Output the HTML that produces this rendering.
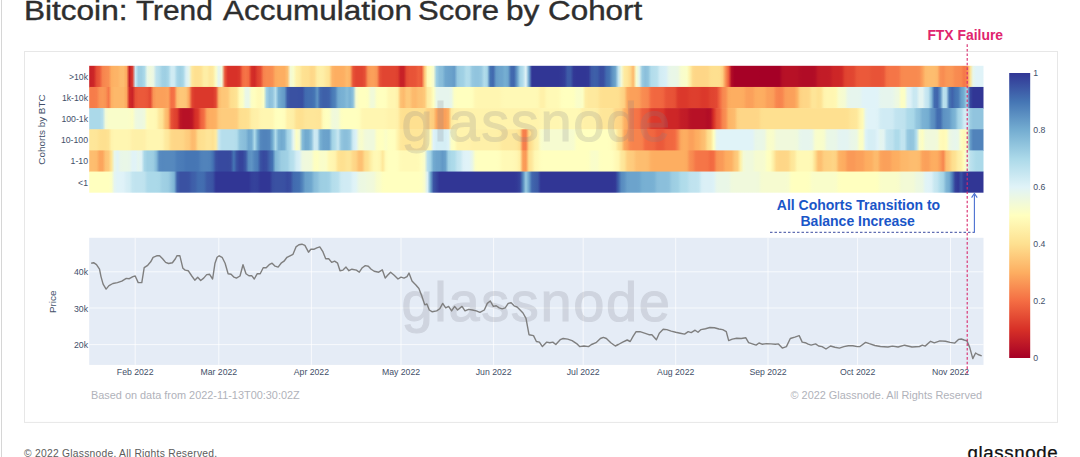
<!DOCTYPE html>
<html lang="en"><head><meta charset="utf-8"><title>Bitcoin: Trend Accumulation Score by Cohort</title>
<style>
html,body{margin:0;padding:0;background:#fff}
body{width:1080px;height:457px;position:relative;overflow:hidden;font-family:"Liberation Sans",sans-serif}
.edge{position:absolute;left:0.6px;top:0;width:1px;height:457px;background:#d6d6d6}
.title{position:absolute;top:-5.8px;height:34px;line-height:34px;font-size:27.5px;color:#2e2e2e;white-space:nowrap;font-weight:400;-webkit-text-stroke:0.4px #2e2e2e;transform-origin:0 50%}
.foot{position:absolute;left:24px;top:446.7px;font-size:10.3px;line-height:14px;color:#5c5c5c;white-space:nowrap;letter-spacing:0.25px}
.logo{position:absolute;left:967.6px;top:439.1px;font-size:18.7px;line-height:28px;color:#111;white-space:nowrap;letter-spacing:0.6px;-webkit-text-stroke:0.25px #111}
</style></head><body>
<div class="edge"></div>
<svg width="1080" height="457" viewBox="0 0 1080 457" style="position:absolute;left:0;top:0">
<rect x="24.5" y="51.5" width="1033" height="370.9" fill="#fff" stroke="#e7e7e7" stroke-width="1"/>
<defs>
<linearGradient id="r0" gradientUnits="userSpaceOnUse" x1="89.20" y1="0" x2="983.50" y2="0">
<stop offset="0.0017" stop-color="#c82127"/>
<stop offset="0.0050" stop-color="#cd2627"/>
<stop offset="0.0083" stop-color="#e44c34"/>
<stop offset="0.0117" stop-color="#eb593a"/>
<stop offset="0.0150" stop-color="#f7834d"/>
<stop offset="0.0183" stop-color="#f88a50"/>
<stop offset="0.0217" stop-color="#f98f53"/>
<stop offset="0.0250" stop-color="#fdaf62"/>
<stop offset="0.0283" stop-color="#fdb366"/>
<stop offset="0.0317" stop-color="#fdb467"/>
<stop offset="0.0350" stop-color="#fdbc6e"/>
<stop offset="0.0383" stop-color="#fdbd6f"/>
<stop offset="0.0417" stop-color="#fdab60"/>
<stop offset="0.0450" stop-color="#c41e27"/>
<stop offset="0.0483" stop-color="#db382b"/>
<stop offset="0.0517" stop-color="#cbe9f2"/>
<stop offset="0.0550" stop-color="#9ecfe3"/>
<stop offset="0.0583" stop-color="#9ecfe3"/>
<stop offset="0.0617" stop-color="#abd9e9"/>
<stop offset="0.0650" stop-color="#e9f7e7"/>
<stop offset="0.0683" stop-color="#f0f9dc"/>
<stop offset="0.0717" stop-color="#ebf7e4"/>
<stop offset="0.0750" stop-color="#bee2ee"/>
<stop offset="0.0783" stop-color="#b3ddeb"/>
<stop offset="0.0817" stop-color="#a1d1e5"/>
<stop offset="0.0850" stop-color="#9ecfe3"/>
<stop offset="0.0883" stop-color="#a6d5e7"/>
<stop offset="0.0917" stop-color="#cfebf3"/>
<stop offset="0.0950" stop-color="#cfebf3"/>
<stop offset="0.0983" stop-color="#a6d5e7"/>
<stop offset="0.1017" stop-color="#9ecfe3"/>
<stop offset="0.1050" stop-color="#a7d6e7"/>
<stop offset="0.1083" stop-color="#d8eff6"/>
<stop offset="0.1117" stop-color="#e7f6ea"/>
<stop offset="0.1150" stop-color="#fee79b"/>
<stop offset="0.1183" stop-color="#fee090"/>
<stop offset="0.1217" stop-color="#fee090"/>
<stop offset="0.1250" stop-color="#fee293"/>
<stop offset="0.1283" stop-color="#feeea5"/>
<stop offset="0.1317" stop-color="#feeea6"/>
<stop offset="0.1350" stop-color="#fee79b"/>
<stop offset="0.1383" stop-color="#feea9f"/>
<stop offset="0.1417" stop-color="#fafdc9"/>
<stop offset="0.1450" stop-color="#e3f4f3"/>
<stop offset="0.1483" stop-color="#f2fad7"/>
<stop offset="0.1517" stop-color="#ea5839"/>
<stop offset="0.1550" stop-color="#d83128"/>
<stop offset="0.1650" stop-color="#d83128"/>
<stop offset="0.1683" stop-color="#db392b"/>
<stop offset="0.1717" stop-color="#f46c43"/>
<stop offset="0.1750" stop-color="#f57547"/>
<stop offset="0.1783" stop-color="#f36b42"/>
<stop offset="0.1817" stop-color="#d52e27"/>
<stop offset="0.1850" stop-color="#d02a27"/>
<stop offset="0.1883" stop-color="#df412f"/>
<stop offset="0.1917" stop-color="#e54d34"/>
<stop offset="0.1950" stop-color="#f7824d"/>
<stop offset="0.1983" stop-color="#f88a50"/>
<stop offset="0.2017" stop-color="#f88a50"/>
<stop offset="0.2050" stop-color="#f98f52"/>
<stop offset="0.2083" stop-color="#fcaa5f"/>
<stop offset="0.2117" stop-color="#fdae61"/>
<stop offset="0.2183" stop-color="#fdae61"/>
<stop offset="0.2217" stop-color="#fdbf71"/>
<stop offset="0.2250" stop-color="#f3fad5"/>
<stop offset="0.2283" stop-color="#f9fdca"/>
<stop offset="0.2317" stop-color="#fff2ab"/>
<stop offset="0.2350" stop-color="#feeea5"/>
<stop offset="0.2383" stop-color="#fee293"/>
<stop offset="0.2417" stop-color="#fee090"/>
<stop offset="0.2450" stop-color="#fedf8f"/>
<stop offset="0.2483" stop-color="#fed788"/>
<stop offset="0.2517" stop-color="#feda8b"/>
<stop offset="0.2550" stop-color="#feeda4"/>
<stop offset="0.2583" stop-color="#fef0a8"/>
<stop offset="0.2617" stop-color="#feeea6"/>
<stop offset="0.2650" stop-color="#fee79b"/>
<stop offset="0.2683" stop-color="#fee293"/>
<stop offset="0.2717" stop-color="#fdb568"/>
<stop offset="0.2750" stop-color="#fdae61"/>
<stop offset="0.2817" stop-color="#fdae61"/>
<stop offset="0.2850" stop-color="#fdb063"/>
<stop offset="0.2883" stop-color="#fdbb6d"/>
<stop offset="0.2917" stop-color="#fdb265"/>
<stop offset="0.2950" stop-color="#e85437"/>
<stop offset="0.2983" stop-color="#e14531"/>
<stop offset="0.3050" stop-color="#e14531"/>
<stop offset="0.3083" stop-color="#e65036"/>
<stop offset="0.3117" stop-color="#f99555"/>
<stop offset="0.3150" stop-color="#fba05a"/>
<stop offset="0.3183" stop-color="#fba05a"/>
<stop offset="0.3217" stop-color="#f99555"/>
<stop offset="0.3250" stop-color="#e65036"/>
<stop offset="0.3283" stop-color="#e14531"/>
<stop offset="0.3417" stop-color="#e14531"/>
<stop offset="0.3450" stop-color="#de402e"/>
<stop offset="0.3483" stop-color="#c72027"/>
<stop offset="0.3517" stop-color="#c82227"/>
<stop offset="0.3550" stop-color="#e44c34"/>
<stop offset="0.3583" stop-color="#e85337"/>
<stop offset="0.3617" stop-color="#e85337"/>
<stop offset="0.3650" stop-color="#e95538"/>
<stop offset="0.3683" stop-color="#ee603d"/>
<stop offset="0.3717" stop-color="#eb593a"/>
<stop offset="0.3750" stop-color="#fdc476"/>
<stop offset="0.3783" stop-color="#fff9b7"/>
<stop offset="0.3817" stop-color="#ffffbf"/>
<stop offset="0.3850" stop-color="#f6fbd0"/>
<stop offset="0.3883" stop-color="#9ecfe3"/>
<stop offset="0.3917" stop-color="#8bbfdb"/>
<stop offset="0.3950" stop-color="#87bcd9"/>
<stop offset="0.3983" stop-color="#6fa7ce"/>
<stop offset="0.4017" stop-color="#6ca3cc"/>
<stop offset="0.4050" stop-color="#6aa1cb"/>
<stop offset="0.4083" stop-color="#659bc8"/>
<stop offset="0.4117" stop-color="#96c8e0"/>
<stop offset="0.4150" stop-color="#9ecfe3"/>
<stop offset="0.4183" stop-color="#a1d1e5"/>
<stop offset="0.4217" stop-color="#b3ddeb"/>
<stop offset="0.4250" stop-color="#b2dceb"/>
<stop offset="0.4283" stop-color="#96c8e0"/>
<stop offset="0.4317" stop-color="#91c4de"/>
<stop offset="0.4350" stop-color="#91c4de"/>
<stop offset="0.4383" stop-color="#96c8e0"/>
<stop offset="0.4417" stop-color="#b2dceb"/>
<stop offset="0.4450" stop-color="#a7d6e7"/>
<stop offset="0.4483" stop-color="#4473b3"/>
<stop offset="0.4517" stop-color="#4168ae"/>
<stop offset="0.4550" stop-color="#659cc8"/>
<stop offset="0.4583" stop-color="#6ca3cc"/>
<stop offset="0.4617" stop-color="#6da5cd"/>
<stop offset="0.4650" stop-color="#76afd2"/>
<stop offset="0.4683" stop-color="#6fa7ce"/>
<stop offset="0.4717" stop-color="#426aaf"/>
<stop offset="0.4750" stop-color="#4067ad"/>
<stop offset="0.4783" stop-color="#649ac7"/>
<stop offset="0.4817" stop-color="#a2d2e5"/>
<stop offset="0.4850" stop-color="#b5deec"/>
<stop offset="0.4883" stop-color="#e1f3f7"/>
<stop offset="0.4917" stop-color="#71a9cf"/>
<stop offset="0.4950" stop-color="#313695"/>
<stop offset="0.5250" stop-color="#313695"/>
<stop offset="0.5283" stop-color="#323996"/>
<stop offset="0.5317" stop-color="#343f9a"/>
<stop offset="0.5350" stop-color="#3d5ba7"/>
<stop offset="0.5383" stop-color="#3d5aa7"/>
<stop offset="0.5417" stop-color="#323996"/>
<stop offset="0.5450" stop-color="#313695"/>
<stop offset="0.5550" stop-color="#313695"/>
<stop offset="0.5583" stop-color="#323996"/>
<stop offset="0.5617" stop-color="#3d5aa7"/>
<stop offset="0.5650" stop-color="#3e60a9"/>
<stop offset="0.5683" stop-color="#3d5da8"/>
<stop offset="0.5717" stop-color="#384ca0"/>
<stop offset="0.5750" stop-color="#394ea1"/>
<stop offset="0.5783" stop-color="#416aaf"/>
<stop offset="0.5817" stop-color="#4574b3"/>
<stop offset="0.5850" stop-color="#5d92c3"/>
<stop offset="0.5883" stop-color="#6ca4cc"/>
<stop offset="0.5917" stop-color="#c1e4ef"/>
<stop offset="0.5950" stop-color="#f1f9d9"/>
<stop offset="0.5983" stop-color="#feeba1"/>
<stop offset="0.6017" stop-color="#fee598"/>
<stop offset="0.6050" stop-color="#fed98a"/>
<stop offset="0.6083" stop-color="#fdb86b"/>
<stop offset="0.6117" stop-color="#f7fccd"/>
<stop offset="0.6150" stop-color="#e5f5ee"/>
<stop offset="0.6183" stop-color="#99cbe1"/>
<stop offset="0.6217" stop-color="#8bbfdb"/>
<stop offset="0.6250" stop-color="#90c4dd"/>
<stop offset="0.6283" stop-color="#b1dceb"/>
<stop offset="0.6317" stop-color="#b6deec"/>
<stop offset="0.6350" stop-color="#b9e0ed"/>
<stop offset="0.6383" stop-color="#d2ecf4"/>
<stop offset="0.6417" stop-color="#d5eef5"/>
<stop offset="0.6450" stop-color="#d9eff6"/>
<stop offset="0.6483" stop-color="#e7f6ea"/>
<stop offset="0.6517" stop-color="#e9f7e7"/>
<stop offset="0.6550" stop-color="#e9f7e7"/>
<stop offset="0.6583" stop-color="#ebf7e3"/>
<stop offset="0.6617" stop-color="#f7fcce"/>
<stop offset="0.6650" stop-color="#f9fdca"/>
<stop offset="0.6683" stop-color="#fbfec6"/>
<stop offset="0.6717" stop-color="#fef0a8"/>
<stop offset="0.6750" stop-color="#feda8b"/>
<stop offset="0.6783" stop-color="#fed687"/>
<stop offset="0.6883" stop-color="#fed687"/>
<stop offset="0.6917" stop-color="#fed788"/>
<stop offset="0.6950" stop-color="#fedf8f"/>
<stop offset="0.6983" stop-color="#fee090"/>
<stop offset="0.7017" stop-color="#fee090"/>
<stop offset="0.7050" stop-color="#fedf8f"/>
<stop offset="0.7083" stop-color="#fecf80"/>
<stop offset="0.7117" stop-color="#f99154"/>
<stop offset="0.7150" stop-color="#ed5d3c"/>
<stop offset="0.7183" stop-color="#b20c26"/>
<stop offset="0.7217" stop-color="#a60126"/>
<stop offset="0.7483" stop-color="#a60126"/>
<stop offset="0.7517" stop-color="#a50026"/>
<stop offset="0.7717" stop-color="#a50026"/>
<stop offset="0.7750" stop-color="#b40f26"/>
<stop offset="0.7783" stop-color="#b71126"/>
<stop offset="0.7883" stop-color="#b71126"/>
<stop offset="0.7917" stop-color="#b61126"/>
<stop offset="0.7950" stop-color="#b20d26"/>
<stop offset="0.7983" stop-color="#b10c26"/>
<stop offset="0.8083" stop-color="#b10c26"/>
<stop offset="0.8117" stop-color="#b30e26"/>
<stop offset="0.8150" stop-color="#c01a27"/>
<stop offset="0.8183" stop-color="#c21c27"/>
<stop offset="0.8250" stop-color="#c21c27"/>
<stop offset="0.8283" stop-color="#c31d27"/>
<stop offset="0.8317" stop-color="#cc2527"/>
<stop offset="0.8350" stop-color="#cd2627"/>
<stop offset="0.8383" stop-color="#cd2627"/>
<stop offset="0.8417" stop-color="#d02a27"/>
<stop offset="0.8450" stop-color="#df412f"/>
<stop offset="0.8483" stop-color="#e14531"/>
<stop offset="0.8517" stop-color="#e14531"/>
<stop offset="0.8550" stop-color="#e24832"/>
<stop offset="0.8583" stop-color="#ea5739"/>
<stop offset="0.8617" stop-color="#eb593a"/>
<stop offset="0.8683" stop-color="#eb593a"/>
<stop offset="0.8717" stop-color="#ea593a"/>
<stop offset="0.8750" stop-color="#e85437"/>
<stop offset="0.8783" stop-color="#e85337"/>
<stop offset="0.8850" stop-color="#e85337"/>
<stop offset="0.8883" stop-color="#e95739"/>
<stop offset="0.8917" stop-color="#f47145"/>
<stop offset="0.8950" stop-color="#f57547"/>
<stop offset="0.9017" stop-color="#f57547"/>
<stop offset="0.9050" stop-color="#f57748"/>
<stop offset="0.9083" stop-color="#f8884f"/>
<stop offset="0.9117" stop-color="#f88a50"/>
<stop offset="0.9250" stop-color="#f88a50"/>
<stop offset="0.9283" stop-color="#f88d52"/>
<stop offset="0.9317" stop-color="#fba15b"/>
<stop offset="0.9350" stop-color="#fdba6c"/>
<stop offset="0.9383" stop-color="#fdbd6f"/>
<stop offset="0.9450" stop-color="#fdbd6f"/>
<stop offset="0.9483" stop-color="#fdb86b"/>
<stop offset="0.9517" stop-color="#f99154"/>
<stop offset="0.9550" stop-color="#f88c51"/>
<stop offset="0.9583" stop-color="#fa9756"/>
<stop offset="0.9617" stop-color="#fa9957"/>
<stop offset="0.9650" stop-color="#fa9756"/>
<stop offset="0.9683" stop-color="#f88c51"/>
<stop offset="0.9717" stop-color="#f88a50"/>
<stop offset="0.9750" stop-color="#f8884f"/>
<stop offset="0.9783" stop-color="#f57748"/>
<stop offset="0.9817" stop-color="#f7844e"/>
<stop offset="0.9850" stop-color="#fee191"/>
<stop offset="0.9883" stop-color="#e7f6ea"/>
<stop offset="0.9917" stop-color="#e0f3f8"/>
<stop offset="0.9983" stop-color="#e0f3f8"/>
</linearGradient>
<linearGradient id="r1" gradientUnits="userSpaceOnUse" x1="89.20" y1="0" x2="983.50" y2="0">
<stop offset="0.0017" stop-color="#f67c4a"/>
<stop offset="0.0050" stop-color="#f67c4a"/>
<stop offset="0.0083" stop-color="#f77f4b"/>
<stop offset="0.0117" stop-color="#fa9556"/>
<stop offset="0.0150" stop-color="#fa9957"/>
<stop offset="0.0183" stop-color="#f99354"/>
<stop offset="0.0217" stop-color="#f57748"/>
<stop offset="0.0250" stop-color="#fdb164"/>
<stop offset="0.0283" stop-color="#fdb86a"/>
<stop offset="0.0383" stop-color="#fdb86a"/>
<stop offset="0.0417" stop-color="#fca85e"/>
<stop offset="0.0450" stop-color="#d22b27"/>
<stop offset="0.0483" stop-color="#c92227"/>
<stop offset="0.0517" stop-color="#e75136"/>
<stop offset="0.0550" stop-color="#eb593a"/>
<stop offset="0.0617" stop-color="#eb593a"/>
<stop offset="0.0650" stop-color="#e95538"/>
<stop offset="0.0683" stop-color="#e24832"/>
<stop offset="0.0717" stop-color="#f99354"/>
<stop offset="0.0750" stop-color="#fba05a"/>
<stop offset="0.0817" stop-color="#fba05a"/>
<stop offset="0.0850" stop-color="#fba15b"/>
<stop offset="0.0883" stop-color="#fca45c"/>
<stop offset="0.0917" stop-color="#f46f44"/>
<stop offset="0.0950" stop-color="#f57346"/>
<stop offset="0.0983" stop-color="#fdbe70"/>
<stop offset="0.1017" stop-color="#fec778"/>
<stop offset="0.1050" stop-color="#fec778"/>
<stop offset="0.1083" stop-color="#fdc476"/>
<stop offset="0.1117" stop-color="#fca45c"/>
<stop offset="0.1150" stop-color="#e14631"/>
<stop offset="0.1183" stop-color="#db382b"/>
<stop offset="0.1383" stop-color="#db382b"/>
<stop offset="0.1417" stop-color="#e34a33"/>
<stop offset="0.1450" stop-color="#fdba6c"/>
<stop offset="0.1483" stop-color="#fec778"/>
<stop offset="0.1517" stop-color="#fec778"/>
<stop offset="0.1550" stop-color="#feca7b"/>
<stop offset="0.1583" stop-color="#fedd8d"/>
<stop offset="0.1617" stop-color="#fee090"/>
<stop offset="0.1650" stop-color="#fee496"/>
<stop offset="0.1683" stop-color="#fffbb9"/>
<stop offset="0.1717" stop-color="#fcfec4"/>
<stop offset="0.1750" stop-color="#e9f7e7"/>
<stop offset="0.1783" stop-color="#e9f7e7"/>
<stop offset="0.1817" stop-color="#fcfec4"/>
<stop offset="0.1850" stop-color="#fffebe"/>
<stop offset="0.1883" stop-color="#fffab7"/>
<stop offset="0.1917" stop-color="#fff9b6"/>
<stop offset="0.1950" stop-color="#fbfec6"/>
<stop offset="0.1983" stop-color="#a0d0e4"/>
<stop offset="0.2017" stop-color="#8bbfdb"/>
<stop offset="0.2050" stop-color="#93c5de"/>
<stop offset="0.2083" stop-color="#b6deec"/>
<stop offset="0.2117" stop-color="#76afd2"/>
<stop offset="0.2150" stop-color="#6ca3cc"/>
<stop offset="0.2183" stop-color="#649ac7"/>
<stop offset="0.2217" stop-color="#3d5ba7"/>
<stop offset="0.2250" stop-color="#3a51a2"/>
<stop offset="0.2317" stop-color="#3a51a2"/>
<stop offset="0.2350" stop-color="#3950a2"/>
<stop offset="0.2383" stop-color="#394fa1"/>
<stop offset="0.2417" stop-color="#416aaf"/>
<stop offset="0.2450" stop-color="#436eb1"/>
<stop offset="0.2483" stop-color="#436eb1"/>
<stop offset="0.2517" stop-color="#4575b4"/>
<stop offset="0.2550" stop-color="#6095c5"/>
<stop offset="0.2583" stop-color="#4168ae"/>
<stop offset="0.2617" stop-color="#3e60a9"/>
<stop offset="0.2650" stop-color="#3e60a9"/>
<stop offset="0.2683" stop-color="#3f63ab"/>
<stop offset="0.2717" stop-color="#4879b6"/>
<stop offset="0.2750" stop-color="#5082bb"/>
<stop offset="0.2783" stop-color="#72aad0"/>
<stop offset="0.2817" stop-color="#78b0d3"/>
<stop offset="0.2850" stop-color="#7ab2d4"/>
<stop offset="0.2883" stop-color="#86bcd9"/>
<stop offset="0.2917" stop-color="#7ab2d4"/>
<stop offset="0.2950" stop-color="#8dc1dc"/>
<stop offset="0.2983" stop-color="#f5fbd2"/>
<stop offset="0.3017" stop-color="#ffffbf"/>
<stop offset="0.3083" stop-color="#ffffbf"/>
<stop offset="0.3117" stop-color="#fdfec2"/>
<stop offset="0.3150" stop-color="#f1fad8"/>
<stop offset="0.3183" stop-color="#f1fad8"/>
<stop offset="0.3217" stop-color="#fdfec2"/>
<stop offset="0.3250" stop-color="#ffffbf"/>
<stop offset="0.3283" stop-color="#ffffbf"/>
<stop offset="0.3317" stop-color="#fffebd"/>
<stop offset="0.3350" stop-color="#fff7b3"/>
<stop offset="0.3383" stop-color="#fff6b1"/>
<stop offset="0.3417" stop-color="#fff6b1"/>
<stop offset="0.3450" stop-color="#fff0a8"/>
<stop offset="0.3483" stop-color="#fdc173"/>
<stop offset="0.3517" stop-color="#fdba6d"/>
<stop offset="0.3550" stop-color="#feca7b"/>
<stop offset="0.3583" stop-color="#feca7b"/>
<stop offset="0.3617" stop-color="#fdba6d"/>
<stop offset="0.3650" stop-color="#fdb96c"/>
<stop offset="0.3683" stop-color="#fdc173"/>
<stop offset="0.3717" stop-color="#fdc274"/>
<stop offset="0.3750" stop-color="#fec97a"/>
<stop offset="0.3783" stop-color="#feeba1"/>
<stop offset="0.3817" stop-color="#fff1aa"/>
<stop offset="0.3850" stop-color="#feffc1"/>
<stop offset="0.3883" stop-color="#e9f7e7"/>
<stop offset="0.3917" stop-color="#e6f5ed"/>
<stop offset="0.4017" stop-color="#e6f5ed"/>
<stop offset="0.4050" stop-color="#e9f7e7"/>
<stop offset="0.4083" stop-color="#fcfec4"/>
<stop offset="0.4117" stop-color="#ffffbf"/>
<stop offset="0.4250" stop-color="#ffffbf"/>
<stop offset="0.4283" stop-color="#fffebd"/>
<stop offset="0.4317" stop-color="#fff7b3"/>
<stop offset="0.4350" stop-color="#fff6b1"/>
<stop offset="0.4583" stop-color="#fff6b1"/>
<stop offset="0.4617" stop-color="#fff8b5"/>
<stop offset="0.4650" stop-color="#fff9b6"/>
<stop offset="0.4983" stop-color="#fff9b6"/>
<stop offset="0.5017" stop-color="#fff8b4"/>
<stop offset="0.5050" stop-color="#fff1a9"/>
<stop offset="0.5083" stop-color="#fff1a9"/>
<stop offset="0.5117" stop-color="#fff8b4"/>
<stop offset="0.5150" stop-color="#fff9b6"/>
<stop offset="0.5217" stop-color="#fff9b6"/>
<stop offset="0.5250" stop-color="#fffab7"/>
<stop offset="0.5283" stop-color="#fffebe"/>
<stop offset="0.5317" stop-color="#ffffbf"/>
<stop offset="0.5383" stop-color="#ffffbf"/>
<stop offset="0.5417" stop-color="#feffc0"/>
<stop offset="0.5450" stop-color="#fafdc9"/>
<stop offset="0.5483" stop-color="#f9fdca"/>
<stop offset="0.5517" stop-color="#fcfec4"/>
<stop offset="0.5550" stop-color="#feeda3"/>
<stop offset="0.5583" stop-color="#fee99e"/>
<stop offset="0.5650" stop-color="#fee99e"/>
<stop offset="0.5683" stop-color="#fee89c"/>
<stop offset="0.5717" stop-color="#fee192"/>
<stop offset="0.5750" stop-color="#fee090"/>
<stop offset="0.5883" stop-color="#fee090"/>
<stop offset="0.5917" stop-color="#fedf8f"/>
<stop offset="0.5950" stop-color="#fed788"/>
<stop offset="0.5983" stop-color="#fed081"/>
<stop offset="0.6017" stop-color="#fca85e"/>
<stop offset="0.6050" stop-color="#fba05a"/>
<stop offset="0.6117" stop-color="#fba05a"/>
<stop offset="0.6150" stop-color="#fb9d59"/>
<stop offset="0.6183" stop-color="#f88d52"/>
<stop offset="0.6217" stop-color="#f88a50"/>
<stop offset="0.6250" stop-color="#f7864f"/>
<stop offset="0.6283" stop-color="#f36b42"/>
<stop offset="0.6317" stop-color="#f16740"/>
<stop offset="0.6383" stop-color="#f16740"/>
<stop offset="0.6417" stop-color="#f0643f"/>
<stop offset="0.6450" stop-color="#e95538"/>
<stop offset="0.6483" stop-color="#e85337"/>
<stop offset="0.6517" stop-color="#e85337"/>
<stop offset="0.6550" stop-color="#e65035"/>
<stop offset="0.6583" stop-color="#dc3b2c"/>
<stop offset="0.6617" stop-color="#db382b"/>
<stop offset="0.6650" stop-color="#db382b"/>
<stop offset="0.6683" stop-color="#db392b"/>
<stop offset="0.6717" stop-color="#de3e2d"/>
<stop offset="0.6750" stop-color="#de3f2e"/>
<stop offset="0.6783" stop-color="#de3f2e"/>
<stop offset="0.6817" stop-color="#de3e2d"/>
<stop offset="0.6850" stop-color="#db392b"/>
<stop offset="0.6883" stop-color="#db382b"/>
<stop offset="0.6917" stop-color="#dc3a2b"/>
<stop offset="0.6950" stop-color="#e04430"/>
<stop offset="0.6983" stop-color="#e14531"/>
<stop offset="0.7017" stop-color="#e34933"/>
<stop offset="0.7050" stop-color="#f16740"/>
<stop offset="0.7083" stop-color="#f7864f"/>
<stop offset="0.7117" stop-color="#f98f52"/>
<stop offset="0.7150" stop-color="#fcaa5f"/>
<stop offset="0.7183" stop-color="#fdae61"/>
<stop offset="0.7283" stop-color="#fdae61"/>
<stop offset="0.7317" stop-color="#fdac60"/>
<stop offset="0.7350" stop-color="#fba15b"/>
<stop offset="0.7383" stop-color="#fba05a"/>
<stop offset="0.7417" stop-color="#fba15b"/>
<stop offset="0.7450" stop-color="#fdac60"/>
<stop offset="0.7483" stop-color="#fdae61"/>
<stop offset="0.7517" stop-color="#fdae61"/>
<stop offset="0.7550" stop-color="#fdac60"/>
<stop offset="0.7583" stop-color="#fba15b"/>
<stop offset="0.7617" stop-color="#fba05a"/>
<stop offset="0.7650" stop-color="#fb9c59"/>
<stop offset="0.7683" stop-color="#f8874f"/>
<stop offset="0.7717" stop-color="#f7834d"/>
<stop offset="0.7750" stop-color="#f8874f"/>
<stop offset="0.7783" stop-color="#fb9c59"/>
<stop offset="0.7817" stop-color="#fba05a"/>
<stop offset="0.7850" stop-color="#fba05a"/>
<stop offset="0.7883" stop-color="#fba15b"/>
<stop offset="0.7917" stop-color="#fdb264"/>
<stop offset="0.7950" stop-color="#fed182"/>
<stop offset="0.7983" stop-color="#fed687"/>
<stop offset="0.8017" stop-color="#fed687"/>
<stop offset="0.8050" stop-color="#fed889"/>
<stop offset="0.8083" stop-color="#fee597"/>
<stop offset="0.8117" stop-color="#fee598"/>
<stop offset="0.8150" stop-color="#fee191"/>
<stop offset="0.8183" stop-color="#fee394"/>
<stop offset="0.8217" stop-color="#fff3ad"/>
<stop offset="0.8250" stop-color="#fff6b1"/>
<stop offset="0.8317" stop-color="#fff6b1"/>
<stop offset="0.8350" stop-color="#fff8b4"/>
<stop offset="0.8383" stop-color="#f8fccc"/>
<stop offset="0.8417" stop-color="#f6fbd0"/>
<stop offset="0.8450" stop-color="#f4fbd4"/>
<stop offset="0.8483" stop-color="#e8f6e9"/>
<stop offset="0.8517" stop-color="#e6f5ed"/>
<stop offset="0.8583" stop-color="#e6f5ed"/>
<stop offset="0.8617" stop-color="#e5f5ee"/>
<stop offset="0.8650" stop-color="#e1f3f7"/>
<stop offset="0.8683" stop-color="#e0f3f8"/>
<stop offset="0.8783" stop-color="#e0f3f8"/>
<stop offset="0.8817" stop-color="#e1f3f7"/>
<stop offset="0.8850" stop-color="#e5f5ee"/>
<stop offset="0.8883" stop-color="#e6f5ed"/>
<stop offset="0.8950" stop-color="#e6f5ed"/>
<stop offset="0.8983" stop-color="#e7f6eb"/>
<stop offset="0.9017" stop-color="#ecf8e3"/>
<stop offset="0.9050" stop-color="#eff9dd"/>
<stop offset="0.9083" stop-color="#fdfec3"/>
<stop offset="0.9117" stop-color="#fbfec6"/>
<stop offset="0.9150" stop-color="#e4f4f1"/>
<stop offset="0.9183" stop-color="#ddf1f7"/>
<stop offset="0.9217" stop-color="#c9e8f1"/>
<stop offset="0.9250" stop-color="#cae8f2"/>
<stop offset="0.9283" stop-color="#e4f4f1"/>
<stop offset="0.9317" stop-color="#e4f4f1"/>
<stop offset="0.9350" stop-color="#cae8f2"/>
<stop offset="0.9383" stop-color="#bfe3ef"/>
<stop offset="0.9417" stop-color="#87bcd9"/>
<stop offset="0.9450" stop-color="#426db0"/>
<stop offset="0.9483" stop-color="#4064ac"/>
<stop offset="0.9517" stop-color="#5a8fc1"/>
<stop offset="0.9550" stop-color="#b9e0ed"/>
<stop offset="0.9583" stop-color="#b6deec"/>
<stop offset="0.9617" stop-color="#4676b4"/>
<stop offset="0.9650" stop-color="#3f62ab"/>
<stop offset="0.9683" stop-color="#4473b3"/>
<stop offset="0.9717" stop-color="#4a7bb7"/>
<stop offset="0.9750" stop-color="#679ec9"/>
<stop offset="0.9783" stop-color="#76afd2"/>
<stop offset="0.9817" stop-color="#a7d6e7"/>
<stop offset="0.9850" stop-color="#37489e"/>
<stop offset="0.9883" stop-color="#313695"/>
<stop offset="0.9983" stop-color="#313695"/>
</linearGradient>
<linearGradient id="r2" gradientUnits="userSpaceOnUse" x1="89.20" y1="0" x2="983.50" y2="0">
<stop offset="0.0017" stop-color="#abd9e9"/>
<stop offset="0.0117" stop-color="#abd9e9"/>
<stop offset="0.0150" stop-color="#b6dfec"/>
<stop offset="0.0183" stop-color="#f2fad7"/>
<stop offset="0.0217" stop-color="#f9fdca"/>
<stop offset="0.0417" stop-color="#f9fdca"/>
<stop offset="0.0450" stop-color="#fafdc9"/>
<stop offset="0.0483" stop-color="#fcfec4"/>
<stop offset="0.0517" stop-color="#eff9dd"/>
<stop offset="0.0550" stop-color="#ecf8e1"/>
<stop offset="0.0583" stop-color="#ecf8e1"/>
<stop offset="0.0617" stop-color="#eff9dc"/>
<stop offset="0.0650" stop-color="#fffcba"/>
<stop offset="0.0683" stop-color="#fff9b6"/>
<stop offset="0.0717" stop-color="#fff9b6"/>
<stop offset="0.0750" stop-color="#fff7b2"/>
<stop offset="0.0783" stop-color="#fee89d"/>
<stop offset="0.0817" stop-color="#fee394"/>
<stop offset="0.0850" stop-color="#fdc274"/>
<stop offset="0.0883" stop-color="#fdb265"/>
<stop offset="0.0917" stop-color="#e85437"/>
<stop offset="0.0950" stop-color="#e14531"/>
<stop offset="0.0983" stop-color="#de3e2d"/>
<stop offset="0.1017" stop-color="#bd1726"/>
<stop offset="0.1050" stop-color="#b71126"/>
<stop offset="0.1117" stop-color="#b71126"/>
<stop offset="0.1150" stop-color="#bb1526"/>
<stop offset="0.1183" stop-color="#d42d27"/>
<stop offset="0.1217" stop-color="#db382b"/>
<stop offset="0.1250" stop-color="#ee603d"/>
<stop offset="0.1283" stop-color="#f46f44"/>
<stop offset="0.1317" stop-color="#fca55d"/>
<stop offset="0.1350" stop-color="#fdae61"/>
<stop offset="0.1383" stop-color="#fdae61"/>
<stop offset="0.1417" stop-color="#fdb264"/>
<stop offset="0.1450" stop-color="#fec87a"/>
<stop offset="0.1483" stop-color="#fecc7d"/>
<stop offset="0.1617" stop-color="#fecc7d"/>
<stop offset="0.1650" stop-color="#fece7f"/>
<stop offset="0.1683" stop-color="#fede8e"/>
<stop offset="0.1717" stop-color="#fee090"/>
<stop offset="0.1750" stop-color="#fee090"/>
<stop offset="0.1783" stop-color="#fee293"/>
<stop offset="0.1817" stop-color="#feeea5"/>
<stop offset="0.1850" stop-color="#fef0a8"/>
<stop offset="0.1883" stop-color="#fff0a9"/>
<stop offset="0.1917" stop-color="#fff5b0"/>
<stop offset="0.1950" stop-color="#fff6b1"/>
<stop offset="0.2017" stop-color="#fff6b1"/>
<stop offset="0.2050" stop-color="#fff7b3"/>
<stop offset="0.2083" stop-color="#fffebd"/>
<stop offset="0.2117" stop-color="#ffffbf"/>
<stop offset="0.2150" stop-color="#ffffbf"/>
<stop offset="0.2183" stop-color="#fffdbc"/>
<stop offset="0.2217" stop-color="#fff1aa"/>
<stop offset="0.2250" stop-color="#fef0a8"/>
<stop offset="0.2283" stop-color="#feeea5"/>
<stop offset="0.2317" stop-color="#fee293"/>
<stop offset="0.2350" stop-color="#fee090"/>
<stop offset="0.2383" stop-color="#fee191"/>
<stop offset="0.2417" stop-color="#fee598"/>
<stop offset="0.2450" stop-color="#fee699"/>
<stop offset="0.2517" stop-color="#fee699"/>
<stop offset="0.2550" stop-color="#fee598"/>
<stop offset="0.2583" stop-color="#fee497"/>
<stop offset="0.2617" stop-color="#fffbb9"/>
<stop offset="0.2650" stop-color="#ffffbf"/>
<stop offset="0.2683" stop-color="#fdfec2"/>
<stop offset="0.2717" stop-color="#f1fad8"/>
<stop offset="0.2750" stop-color="#f0f9dc"/>
<stop offset="0.2783" stop-color="#f1fad8"/>
<stop offset="0.2817" stop-color="#fdfec2"/>
<stop offset="0.2850" stop-color="#ffffbf"/>
<stop offset="0.2983" stop-color="#ffffbf"/>
<stop offset="0.3017" stop-color="#fffebd"/>
<stop offset="0.3050" stop-color="#fff7b3"/>
<stop offset="0.3083" stop-color="#fff6b1"/>
<stop offset="0.3283" stop-color="#fff6b1"/>
<stop offset="0.3317" stop-color="#fff5b0"/>
<stop offset="0.3350" stop-color="#fff3ad"/>
<stop offset="0.3383" stop-color="#fff3ac"/>
<stop offset="0.3417" stop-color="#fff3ac"/>
<stop offset="0.3450" stop-color="#fff0a9"/>
<stop offset="0.3483" stop-color="#fee293"/>
<stop offset="0.3517" stop-color="#fee090"/>
<stop offset="0.3717" stop-color="#fee090"/>
<stop offset="0.3750" stop-color="#fede8e"/>
<stop offset="0.3783" stop-color="#fed384"/>
<stop offset="0.3817" stop-color="#fed182"/>
<stop offset="0.3850" stop-color="#fecc7d"/>
<stop offset="0.3883" stop-color="#fca75e"/>
<stop offset="0.3917" stop-color="#fba05a"/>
<stop offset="0.3983" stop-color="#fba05a"/>
<stop offset="0.4017" stop-color="#fdae61"/>
<stop offset="0.4050" stop-color="#fee99e"/>
<stop offset="0.4083" stop-color="#fef0a8"/>
<stop offset="0.4117" stop-color="#fff0a8"/>
<stop offset="0.4150" stop-color="#fff2ac"/>
<stop offset="0.4183" stop-color="#fff3ac"/>
<stop offset="0.4983" stop-color="#fff3ac"/>
<stop offset="0.5017" stop-color="#fff3ad"/>
<stop offset="0.5050" stop-color="#fff5b0"/>
<stop offset="0.5083" stop-color="#fff6b1"/>
<stop offset="0.5250" stop-color="#fff6b1"/>
<stop offset="0.5283" stop-color="#fff8b5"/>
<stop offset="0.5317" stop-color="#fff9b6"/>
<stop offset="0.5450" stop-color="#fff9b6"/>
<stop offset="0.5483" stop-color="#fff8b4"/>
<stop offset="0.5517" stop-color="#fff1a9"/>
<stop offset="0.5550" stop-color="#fef0a8"/>
<stop offset="0.5650" stop-color="#fef0a8"/>
<stop offset="0.5683" stop-color="#feeea6"/>
<stop offset="0.5717" stop-color="#fee79b"/>
<stop offset="0.5750" stop-color="#fee699"/>
<stop offset="0.5817" stop-color="#fee699"/>
<stop offset="0.5850" stop-color="#fee597"/>
<stop offset="0.5883" stop-color="#fed889"/>
<stop offset="0.5917" stop-color="#fed687"/>
<stop offset="0.5950" stop-color="#fed182"/>
<stop offset="0.5983" stop-color="#fdb366"/>
<stop offset="0.6017" stop-color="#fca75e"/>
<stop offset="0.6050" stop-color="#f67c4a"/>
<stop offset="0.6083" stop-color="#f57547"/>
<stop offset="0.6117" stop-color="#f57547"/>
<stop offset="0.6150" stop-color="#f57145"/>
<stop offset="0.6183" stop-color="#ec5d3c"/>
<stop offset="0.6217" stop-color="#eb593a"/>
<stop offset="0.6250" stop-color="#e95538"/>
<stop offset="0.6283" stop-color="#dd3c2c"/>
<stop offset="0.6317" stop-color="#db382b"/>
<stop offset="0.6383" stop-color="#db382b"/>
<stop offset="0.6417" stop-color="#da362a"/>
<stop offset="0.6450" stop-color="#cf2827"/>
<stop offset="0.6483" stop-color="#cd2627"/>
<stop offset="0.6550" stop-color="#cd2627"/>
<stop offset="0.6583" stop-color="#cc2527"/>
<stop offset="0.6617" stop-color="#c31d27"/>
<stop offset="0.6650" stop-color="#c21c27"/>
<stop offset="0.6683" stop-color="#c11b27"/>
<stop offset="0.6717" stop-color="#b81326"/>
<stop offset="0.6750" stop-color="#b71126"/>
<stop offset="0.6850" stop-color="#b71126"/>
<stop offset="0.6883" stop-color="#b61126"/>
<stop offset="0.6917" stop-color="#b20d26"/>
<stop offset="0.6950" stop-color="#b61026"/>
<stop offset="0.6983" stop-color="#d73027"/>
<stop offset="0.7017" stop-color="#e85538"/>
<stop offset="0.7050" stop-color="#ed5f3d"/>
<stop offset="0.7083" stop-color="#f7844e"/>
<stop offset="0.7117" stop-color="#f99053"/>
<stop offset="0.7150" stop-color="#fdb466"/>
<stop offset="0.7183" stop-color="#fdb86a"/>
<stop offset="0.7217" stop-color="#fdbc6e"/>
<stop offset="0.7250" stop-color="#fed283"/>
<stop offset="0.7283" stop-color="#fed687"/>
<stop offset="0.7450" stop-color="#fed687"/>
<stop offset="0.7483" stop-color="#fed788"/>
<stop offset="0.7517" stop-color="#fedf8f"/>
<stop offset="0.7550" stop-color="#fee090"/>
<stop offset="0.8450" stop-color="#fee090"/>
<stop offset="0.8483" stop-color="#fee191"/>
<stop offset="0.8517" stop-color="#fee598"/>
<stop offset="0.8550" stop-color="#fee699"/>
<stop offset="0.8583" stop-color="#fee89c"/>
<stop offset="0.8617" stop-color="#fff4ae"/>
<stop offset="0.8650" stop-color="#fffbb8"/>
<stop offset="0.8683" stop-color="#e5f5ef"/>
<stop offset="0.8717" stop-color="#e0f3f8"/>
<stop offset="0.8783" stop-color="#e0f3f8"/>
<stop offset="0.8817" stop-color="#def2f7"/>
<stop offset="0.8850" stop-color="#d2ecf4"/>
<stop offset="0.8883" stop-color="#d0ebf4"/>
<stop offset="0.8950" stop-color="#d0ebf4"/>
<stop offset="0.8983" stop-color="#ceeaf3"/>
<stop offset="0.9017" stop-color="#c2e4f0"/>
<stop offset="0.9050" stop-color="#c0e3ef"/>
<stop offset="0.9083" stop-color="#c0e3ef"/>
<stop offset="0.9117" stop-color="#bee2ee"/>
<stop offset="0.9150" stop-color="#aedaea"/>
<stop offset="0.9183" stop-color="#abd9e9"/>
<stop offset="0.9217" stop-color="#a8d7e8"/>
<stop offset="0.9250" stop-color="#94c7df"/>
<stop offset="0.9283" stop-color="#8ec2dc"/>
<stop offset="0.9317" stop-color="#7bb2d4"/>
<stop offset="0.9350" stop-color="#78b0d3"/>
<stop offset="0.9383" stop-color="#74add1"/>
<stop offset="0.9417" stop-color="#5f94c4"/>
<stop offset="0.9450" stop-color="#588bbf"/>
<stop offset="0.9483" stop-color="#426cb0"/>
<stop offset="0.9517" stop-color="#436db0"/>
<stop offset="0.9550" stop-color="#5c91c2"/>
<stop offset="0.9583" stop-color="#6196c5"/>
<stop offset="0.9617" stop-color="#649ac7"/>
<stop offset="0.9650" stop-color="#74add1"/>
<stop offset="0.9683" stop-color="#7eb5d5"/>
<stop offset="0.9717" stop-color="#a5d4e6"/>
<stop offset="0.9750" stop-color="#b0dbea"/>
<stop offset="0.9783" stop-color="#d2ecf4"/>
<stop offset="0.9817" stop-color="#d6eef5"/>
<stop offset="0.9850" stop-color="#9ccde2"/>
<stop offset="0.9883" stop-color="#91c4de"/>
<stop offset="0.9983" stop-color="#91c4de"/>
</linearGradient>
<linearGradient id="r3" gradientUnits="userSpaceOnUse" x1="89.20" y1="0" x2="983.50" y2="0">
<stop offset="0.0017" stop-color="#fee699"/>
<stop offset="0.0050" stop-color="#fee699"/>
<stop offset="0.0083" stop-color="#fee598"/>
<stop offset="0.0117" stop-color="#fee191"/>
<stop offset="0.0150" stop-color="#fee090"/>
<stop offset="0.0183" stop-color="#fee090"/>
<stop offset="0.0217" stop-color="#fee394"/>
<stop offset="0.0250" stop-color="#fff3ad"/>
<stop offset="0.0283" stop-color="#fff6b1"/>
<stop offset="0.0417" stop-color="#fff6b1"/>
<stop offset="0.0450" stop-color="#fff5b0"/>
<stop offset="0.0483" stop-color="#fff0a9"/>
<stop offset="0.0517" stop-color="#fef0a8"/>
<stop offset="0.0583" stop-color="#fef0a8"/>
<stop offset="0.0617" stop-color="#fff0a9"/>
<stop offset="0.0650" stop-color="#fff5b0"/>
<stop offset="0.0683" stop-color="#fff6b1"/>
<stop offset="0.0783" stop-color="#fff6b1"/>
<stop offset="0.0817" stop-color="#fff4af"/>
<stop offset="0.0850" stop-color="#feeba0"/>
<stop offset="0.0883" stop-color="#fee79b"/>
<stop offset="0.0917" stop-color="#fed989"/>
<stop offset="0.0950" stop-color="#fed687"/>
<stop offset="0.1017" stop-color="#fed687"/>
<stop offset="0.1050" stop-color="#fed585"/>
<stop offset="0.1083" stop-color="#fecd7e"/>
<stop offset="0.1117" stop-color="#feca7b"/>
<stop offset="0.1150" stop-color="#fdba6d"/>
<stop offset="0.1183" stop-color="#fdbd6f"/>
<stop offset="0.1217" stop-color="#fedb8b"/>
<stop offset="0.1250" stop-color="#fee090"/>
<stop offset="0.1283" stop-color="#fee191"/>
<stop offset="0.1317" stop-color="#fee598"/>
<stop offset="0.1350" stop-color="#fee598"/>
<stop offset="0.1383" stop-color="#fee191"/>
<stop offset="0.1417" stop-color="#feeaa0"/>
<stop offset="0.1450" stop-color="#c7e7f1"/>
<stop offset="0.1483" stop-color="#b6deec"/>
<stop offset="0.1617" stop-color="#b6deec"/>
<stop offset="0.1650" stop-color="#b1dceb"/>
<stop offset="0.1683" stop-color="#90c4dd"/>
<stop offset="0.1717" stop-color="#8bbfdb"/>
<stop offset="0.1750" stop-color="#87bcd9"/>
<stop offset="0.1783" stop-color="#6fa7ce"/>
<stop offset="0.1817" stop-color="#75aed2"/>
<stop offset="0.1850" stop-color="#aedbea"/>
<stop offset="0.1883" stop-color="#72abd0"/>
<stop offset="0.1917" stop-color="#5487bd"/>
<stop offset="0.1950" stop-color="#5183bb"/>
<stop offset="0.1983" stop-color="#5183bb"/>
<stop offset="0.2017" stop-color="#5487bd"/>
<stop offset="0.2050" stop-color="#72abd0"/>
<stop offset="0.2083" stop-color="#afdbea"/>
<stop offset="0.2117" stop-color="#7bb3d4"/>
<stop offset="0.2150" stop-color="#72aacf"/>
<stop offset="0.2183" stop-color="#78b0d3"/>
<stop offset="0.2217" stop-color="#a4d3e6"/>
<stop offset="0.2250" stop-color="#b3ddeb"/>
<stop offset="0.2283" stop-color="#e5f5ef"/>
<stop offset="0.2317" stop-color="#fcfec4"/>
<stop offset="0.2350" stop-color="#f4fbd3"/>
<stop offset="0.2383" stop-color="#87bdd9"/>
<stop offset="0.2417" stop-color="#72aacf"/>
<stop offset="0.2450" stop-color="#73acd0"/>
<stop offset="0.2483" stop-color="#88bdda"/>
<stop offset="0.2517" stop-color="#cce9f2"/>
<stop offset="0.2550" stop-color="#cae8f2"/>
<stop offset="0.2583" stop-color="#79b1d3"/>
<stop offset="0.2617" stop-color="#6ca3cc"/>
<stop offset="0.2650" stop-color="#6ba2cb"/>
<stop offset="0.2683" stop-color="#6aa1cb"/>
<stop offset="0.2717" stop-color="#a2d2e5"/>
<stop offset="0.2750" stop-color="#b0dbea"/>
<stop offset="0.2783" stop-color="#c8e7f1"/>
<stop offset="0.2817" stop-color="#95c7df"/>
<stop offset="0.2850" stop-color="#8bbfdb"/>
<stop offset="0.2883" stop-color="#8bbfdb"/>
<stop offset="0.2917" stop-color="#95c7df"/>
<stop offset="0.2950" stop-color="#cdeaf3"/>
<stop offset="0.2983" stop-color="#dcf1f7"/>
<stop offset="0.3017" stop-color="#f5fbd1"/>
<stop offset="0.3050" stop-color="#f8fccc"/>
<stop offset="0.3083" stop-color="#f1f9d9"/>
<stop offset="0.3117" stop-color="#f0f9dc"/>
<stop offset="0.3150" stop-color="#eff9dc"/>
<stop offset="0.3183" stop-color="#eff9dc"/>
<stop offset="0.3217" stop-color="#fdfec3"/>
<stop offset="0.3250" stop-color="#ffffbf"/>
<stop offset="0.3283" stop-color="#feffc0"/>
<stop offset="0.3317" stop-color="#fafdc8"/>
<stop offset="0.3350" stop-color="#feffc0"/>
<stop offset="0.3383" stop-color="#ffffbf"/>
<stop offset="0.3417" stop-color="#fffebd"/>
<stop offset="0.3450" stop-color="#fff3ac"/>
<stop offset="0.3483" stop-color="#fee89c"/>
<stop offset="0.3517" stop-color="#fee699"/>
<stop offset="0.3717" stop-color="#fee699"/>
<stop offset="0.3750" stop-color="#fee89c"/>
<stop offset="0.3783" stop-color="#fff4ae"/>
<stop offset="0.3817" stop-color="#fffbb9"/>
<stop offset="0.3850" stop-color="#dff2f8"/>
<stop offset="0.3883" stop-color="#d5eef5"/>
<stop offset="0.3983" stop-color="#d5eef5"/>
<stop offset="0.4017" stop-color="#ddf2f7"/>
<stop offset="0.4050" stop-color="#fbfdc7"/>
<stop offset="0.4083" stop-color="#fffebd"/>
<stop offset="0.4117" stop-color="#fff4ae"/>
<stop offset="0.4150" stop-color="#fff3ac"/>
<stop offset="0.4217" stop-color="#fff3ac"/>
<stop offset="0.4250" stop-color="#fff2ac"/>
<stop offset="0.4283" stop-color="#fff0a8"/>
<stop offset="0.4317" stop-color="#fef0a8"/>
<stop offset="0.4550" stop-color="#fef0a8"/>
<stop offset="0.4583" stop-color="#feefa6"/>
<stop offset="0.4617" stop-color="#feea9f"/>
<stop offset="0.4650" stop-color="#fee99e"/>
<stop offset="0.4750" stop-color="#fee99e"/>
<stop offset="0.4783" stop-color="#fee79a"/>
<stop offset="0.4817" stop-color="#fedd8e"/>
<stop offset="0.4850" stop-color="#f7804c"/>
<stop offset="0.4883" stop-color="#f67e4b"/>
<stop offset="0.4917" stop-color="#fed585"/>
<stop offset="0.4950" stop-color="#fee293"/>
<stop offset="0.4983" stop-color="#feeea5"/>
<stop offset="0.5017" stop-color="#fff2ac"/>
<stop offset="0.5050" stop-color="#f9fdcb"/>
<stop offset="0.5083" stop-color="#f6fbd0"/>
<stop offset="0.5383" stop-color="#f6fbd0"/>
<stop offset="0.5417" stop-color="#f7fcce"/>
<stop offset="0.5450" stop-color="#feffc1"/>
<stop offset="0.5483" stop-color="#ffffbf"/>
<stop offset="0.5783" stop-color="#ffffbf"/>
<stop offset="0.5817" stop-color="#fffebe"/>
<stop offset="0.5850" stop-color="#fffab7"/>
<stop offset="0.5883" stop-color="#fff6b1"/>
<stop offset="0.5917" stop-color="#fee395"/>
<stop offset="0.5950" stop-color="#fed989"/>
<stop offset="0.5983" stop-color="#fcaa5f"/>
<stop offset="0.6017" stop-color="#fb9c59"/>
<stop offset="0.6050" stop-color="#f8874f"/>
<stop offset="0.6083" stop-color="#f7834d"/>
<stop offset="0.6150" stop-color="#f7834d"/>
<stop offset="0.6183" stop-color="#f7804c"/>
<stop offset="0.6217" stop-color="#f36a42"/>
<stop offset="0.6250" stop-color="#f16740"/>
<stop offset="0.6283" stop-color="#f16740"/>
<stop offset="0.6317" stop-color="#f0653f"/>
<stop offset="0.6350" stop-color="#eb5b3b"/>
<stop offset="0.6383" stop-color="#eb593a"/>
<stop offset="0.6417" stop-color="#eb5b3b"/>
<stop offset="0.6450" stop-color="#f0653f"/>
<stop offset="0.6483" stop-color="#f16740"/>
<stop offset="0.6517" stop-color="#f16740"/>
<stop offset="0.6550" stop-color="#f36a42"/>
<stop offset="0.6583" stop-color="#f7854e"/>
<stop offset="0.6617" stop-color="#fca95f"/>
<stop offset="0.6650" stop-color="#fdae61"/>
<stop offset="0.6683" stop-color="#fdac60"/>
<stop offset="0.6717" stop-color="#fba15b"/>
<stop offset="0.6750" stop-color="#fba15b"/>
<stop offset="0.6783" stop-color="#fdac60"/>
<stop offset="0.6817" stop-color="#fdb063"/>
<stop offset="0.6850" stop-color="#fdbb6d"/>
<stop offset="0.6883" stop-color="#fdc173"/>
<stop offset="0.6917" stop-color="#fedc8c"/>
<stop offset="0.6950" stop-color="#fee496"/>
<stop offset="0.6983" stop-color="#ffffbf"/>
<stop offset="0.7017" stop-color="#e4f4f1"/>
<stop offset="0.7050" stop-color="#e0f3f8"/>
<stop offset="0.7383" stop-color="#e0f3f8"/>
<stop offset="0.7417" stop-color="#e1f3f6"/>
<stop offset="0.7450" stop-color="#e8f6e9"/>
<stop offset="0.7483" stop-color="#e9f7e7"/>
<stop offset="0.7517" stop-color="#e9f7e7"/>
<stop offset="0.7550" stop-color="#ebf7e3"/>
<stop offset="0.7583" stop-color="#f7fcce"/>
<stop offset="0.7617" stop-color="#f9fdca"/>
<stop offset="0.7650" stop-color="#f8fccc"/>
<stop offset="0.7683" stop-color="#f1f9d9"/>
<stop offset="0.7717" stop-color="#f0f9dc"/>
<stop offset="0.7883" stop-color="#f0f9dc"/>
<stop offset="0.7917" stop-color="#eef9de"/>
<stop offset="0.7950" stop-color="#e7f6eb"/>
<stop offset="0.7983" stop-color="#e6f5ed"/>
<stop offset="0.8050" stop-color="#e6f5ed"/>
<stop offset="0.8083" stop-color="#e8f6e8"/>
<stop offset="0.8117" stop-color="#f7fccf"/>
<stop offset="0.8150" stop-color="#f9fdca"/>
<stop offset="0.8183" stop-color="#f9fdca"/>
<stop offset="0.8217" stop-color="#f7fcce"/>
<stop offset="0.8250" stop-color="#ebf7e3"/>
<stop offset="0.8283" stop-color="#e9f7e7"/>
<stop offset="0.8317" stop-color="#e9f7e7"/>
<stop offset="0.8350" stop-color="#e9f6e8"/>
<stop offset="0.8383" stop-color="#e4f4f1"/>
<stop offset="0.8417" stop-color="#e3f4f2"/>
<stop offset="0.8450" stop-color="#e3f4f2"/>
<stop offset="0.8483" stop-color="#e4f4f1"/>
<stop offset="0.8517" stop-color="#e9f6e8"/>
<stop offset="0.8550" stop-color="#e9f7e7"/>
<stop offset="0.8583" stop-color="#ecf8e2"/>
<stop offset="0.8617" stop-color="#fcfec4"/>
<stop offset="0.8650" stop-color="#fbfdc7"/>
<stop offset="0.8683" stop-color="#ddf2f7"/>
<stop offset="0.8717" stop-color="#d5eef5"/>
<stop offset="0.8750" stop-color="#d5eef5"/>
<stop offset="0.8783" stop-color="#d7eef5"/>
<stop offset="0.8817" stop-color="#e0f3f8"/>
<stop offset="0.8850" stop-color="#e5f5ee"/>
<stop offset="0.8883" stop-color="#e3f4f2"/>
<stop offset="0.8917" stop-color="#c5e6f0"/>
<stop offset="0.8950" stop-color="#c0e3ef"/>
<stop offset="0.8983" stop-color="#bee2ee"/>
<stop offset="0.9017" stop-color="#aedaea"/>
<stop offset="0.9050" stop-color="#aedbea"/>
<stop offset="0.9083" stop-color="#c2e4f0"/>
<stop offset="0.9117" stop-color="#c0e3ef"/>
<stop offset="0.9150" stop-color="#98cae1"/>
<stop offset="0.9183" stop-color="#91c4de"/>
<stop offset="0.9217" stop-color="#94c7df"/>
<stop offset="0.9250" stop-color="#b5deec"/>
<stop offset="0.9283" stop-color="#f8fccd"/>
<stop offset="0.9317" stop-color="#fdfec2"/>
<stop offset="0.9350" stop-color="#f1fad8"/>
<stop offset="0.9383" stop-color="#f0f9dc"/>
<stop offset="0.9450" stop-color="#f0f9dc"/>
<stop offset="0.9483" stop-color="#f2fad7"/>
<stop offset="0.9517" stop-color="#fffbba"/>
<stop offset="0.9550" stop-color="#fff9b6"/>
<stop offset="0.9583" stop-color="#fffcbb"/>
<stop offset="0.9617" stop-color="#edf8e1"/>
<stop offset="0.9650" stop-color="#e9f6e8"/>
<stop offset="0.9683" stop-color="#e7f6ec"/>
<stop offset="0.9717" stop-color="#e9f7e7"/>
<stop offset="0.9750" stop-color="#fdfec3"/>
<stop offset="0.9783" stop-color="#fffab7"/>
<stop offset="0.9817" stop-color="#f7fccd"/>
<stop offset="0.9850" stop-color="#69a0ca"/>
<stop offset="0.9883" stop-color="#5183bb"/>
<stop offset="0.9983" stop-color="#5183bb"/>
</linearGradient>
<linearGradient id="r4" gradientUnits="userSpaceOnUse" x1="89.20" y1="0" x2="983.50" y2="0">
<stop offset="0.0017" stop-color="#fdbd6f"/>
<stop offset="0.0050" stop-color="#fdbd6f"/>
<stop offset="0.0083" stop-color="#fdba6c"/>
<stop offset="0.0117" stop-color="#fca45c"/>
<stop offset="0.0150" stop-color="#fca65d"/>
<stop offset="0.0183" stop-color="#fdc375"/>
<stop offset="0.0217" stop-color="#feca7b"/>
<stop offset="0.0250" stop-color="#fee698"/>
<stop offset="0.0283" stop-color="#e7f6ea"/>
<stop offset="0.0317" stop-color="#e1f3f6"/>
<stop offset="0.0350" stop-color="#e8f6e9"/>
<stop offset="0.0383" stop-color="#e9f7e7"/>
<stop offset="0.0417" stop-color="#e9f7e7"/>
<stop offset="0.0450" stop-color="#e8f6e9"/>
<stop offset="0.0483" stop-color="#e1f3f6"/>
<stop offset="0.0517" stop-color="#e1f3f7"/>
<stop offset="0.0550" stop-color="#e5f5ee"/>
<stop offset="0.0583" stop-color="#e1f3f6"/>
<stop offset="0.0617" stop-color="#a9d7e8"/>
<stop offset="0.0650" stop-color="#9ecfe3"/>
<stop offset="0.0683" stop-color="#9ecfe3"/>
<stop offset="0.0717" stop-color="#9ccde2"/>
<stop offset="0.0750" stop-color="#85bbd9"/>
<stop offset="0.0783" stop-color="#588bc0"/>
<stop offset="0.0817" stop-color="#5588be"/>
<stop offset="0.0850" stop-color="#5689be"/>
<stop offset="0.0917" stop-color="#5689be"/>
<stop offset="0.0950" stop-color="#5588be"/>
<stop offset="0.0983" stop-color="#4c7eb9"/>
<stop offset="0.1017" stop-color="#4b7cb8"/>
<stop offset="0.1050" stop-color="#4a7bb7"/>
<stop offset="0.1083" stop-color="#4676b5"/>
<stop offset="0.1117" stop-color="#4676b4"/>
<stop offset="0.1183" stop-color="#4676b4"/>
<stop offset="0.1217" stop-color="#4777b5"/>
<stop offset="0.1250" stop-color="#4f81ba"/>
<stop offset="0.1283" stop-color="#5183bb"/>
<stop offset="0.1317" stop-color="#5183bb"/>
<stop offset="0.1350" stop-color="#4f81ba"/>
<stop offset="0.1383" stop-color="#4472b3"/>
<stop offset="0.1417" stop-color="#394fa1"/>
<stop offset="0.1450" stop-color="#37499f"/>
<stop offset="0.1517" stop-color="#37499f"/>
<stop offset="0.1550" stop-color="#37499e"/>
<stop offset="0.1583" stop-color="#384b9f"/>
<stop offset="0.1617" stop-color="#4575b4"/>
<stop offset="0.1650" stop-color="#3950a2"/>
<stop offset="0.1683" stop-color="#35439b"/>
<stop offset="0.1717" stop-color="#35449c"/>
<stop offset="0.1750" stop-color="#3c58a6"/>
<stop offset="0.1783" stop-color="#5a8fc1"/>
<stop offset="0.1817" stop-color="#5f94c4"/>
<stop offset="0.1850" stop-color="#5285bc"/>
<stop offset="0.1883" stop-color="#4b7cb8"/>
<stop offset="0.1917" stop-color="#3951a2"/>
<stop offset="0.1950" stop-color="#37499f"/>
<stop offset="0.1983" stop-color="#384da0"/>
<stop offset="0.2017" stop-color="#3f63ab"/>
<stop offset="0.2050" stop-color="#4473b3"/>
<stop offset="0.2083" stop-color="#80b7d6"/>
<stop offset="0.2117" stop-color="#8dc1dc"/>
<stop offset="0.2150" stop-color="#9ccde2"/>
<stop offset="0.2183" stop-color="#9ecfe3"/>
<stop offset="0.2217" stop-color="#a1d1e5"/>
<stop offset="0.2250" stop-color="#b3ddeb"/>
<stop offset="0.2283" stop-color="#b9e0ed"/>
<stop offset="0.2317" stop-color="#d2ecf4"/>
<stop offset="0.2350" stop-color="#daf0f6"/>
<stop offset="0.2383" stop-color="#edf8e0"/>
<stop offset="0.2417" stop-color="#f0f9dc"/>
<stop offset="0.2450" stop-color="#f0f9dc"/>
<stop offset="0.2483" stop-color="#f1fad8"/>
<stop offset="0.2517" stop-color="#fdfec2"/>
<stop offset="0.2550" stop-color="#feffc0"/>
<stop offset="0.2583" stop-color="#fafdc9"/>
<stop offset="0.2617" stop-color="#f9fdca"/>
<stop offset="0.2650" stop-color="#fbfdc7"/>
<stop offset="0.2683" stop-color="#fff8b4"/>
<stop offset="0.2717" stop-color="#fff6b1"/>
<stop offset="0.2750" stop-color="#fff3ad"/>
<stop offset="0.2783" stop-color="#fee394"/>
<stop offset="0.2817" stop-color="#fee090"/>
<stop offset="0.2850" stop-color="#fee191"/>
<stop offset="0.2883" stop-color="#fee598"/>
<stop offset="0.2917" stop-color="#fee597"/>
<stop offset="0.2950" stop-color="#fed889"/>
<stop offset="0.2983" stop-color="#fed384"/>
<stop offset="0.3017" stop-color="#fdc072"/>
<stop offset="0.3050" stop-color="#fdc173"/>
<stop offset="0.3083" stop-color="#fedc8c"/>
<stop offset="0.3117" stop-color="#fee293"/>
<stop offset="0.3150" stop-color="#feefa6"/>
<stop offset="0.3183" stop-color="#fff8b4"/>
<stop offset="0.3217" stop-color="#fff9b6"/>
<stop offset="0.3250" stop-color="#fff6b1"/>
<stop offset="0.3283" stop-color="#fee79a"/>
<stop offset="0.3317" stop-color="#fffbb9"/>
<stop offset="0.3350" stop-color="#ffffbf"/>
<stop offset="0.3417" stop-color="#ffffbf"/>
<stop offset="0.3450" stop-color="#fffebe"/>
<stop offset="0.3483" stop-color="#fffab7"/>
<stop offset="0.3517" stop-color="#fff9b6"/>
<stop offset="0.3650" stop-color="#fff9b6"/>
<stop offset="0.3683" stop-color="#fffab7"/>
<stop offset="0.3717" stop-color="#fffebe"/>
<stop offset="0.3750" stop-color="#f8fccd"/>
<stop offset="0.3783" stop-color="#b8dfed"/>
<stop offset="0.3817" stop-color="#a3d3e6"/>
<stop offset="0.3850" stop-color="#73abd0"/>
<stop offset="0.3883" stop-color="#6ca3cc"/>
<stop offset="0.3917" stop-color="#6ba2cb"/>
<stop offset="0.3950" stop-color="#6298c6"/>
<stop offset="0.3983" stop-color="#69a0ca"/>
<stop offset="0.4017" stop-color="#a2d2e5"/>
<stop offset="0.4050" stop-color="#abd9e9"/>
<stop offset="0.4083" stop-color="#aedbea"/>
<stop offset="0.4117" stop-color="#c2e4f0"/>
<stop offset="0.4150" stop-color="#c9e8f1"/>
<stop offset="0.4183" stop-color="#ddf1f7"/>
<stop offset="0.4217" stop-color="#e0f3f8"/>
<stop offset="0.4250" stop-color="#e1f3f7"/>
<stop offset="0.4283" stop-color="#e8f6e8"/>
<stop offset="0.4317" stop-color="#fcfec4"/>
<stop offset="0.4350" stop-color="#ffffbf"/>
<stop offset="0.4550" stop-color="#ffffbf"/>
<stop offset="0.4583" stop-color="#fffebe"/>
<stop offset="0.4617" stop-color="#fffab7"/>
<stop offset="0.4650" stop-color="#fff9b6"/>
<stop offset="0.4717" stop-color="#fff9b6"/>
<stop offset="0.4750" stop-color="#fff8b5"/>
<stop offset="0.4783" stop-color="#fff6b1"/>
<stop offset="0.4817" stop-color="#feeea4"/>
<stop offset="0.4850" stop-color="#fb9d59"/>
<stop offset="0.4883" stop-color="#fa9957"/>
<stop offset="0.4917" stop-color="#fee090"/>
<stop offset="0.4950" stop-color="#fee89d"/>
<stop offset="0.4983" stop-color="#fff7b2"/>
<stop offset="0.5017" stop-color="#fffab7"/>
<stop offset="0.5050" stop-color="#fffebe"/>
<stop offset="0.5083" stop-color="#ffffbf"/>
<stop offset="0.5550" stop-color="#ffffbf"/>
<stop offset="0.5583" stop-color="#feffc0"/>
<stop offset="0.5617" stop-color="#fafdc9"/>
<stop offset="0.5650" stop-color="#f9fdca"/>
<stop offset="0.5683" stop-color="#fafdc9"/>
<stop offset="0.5717" stop-color="#feffc0"/>
<stop offset="0.5750" stop-color="#ffffbf"/>
<stop offset="0.5817" stop-color="#ffffbf"/>
<stop offset="0.5850" stop-color="#fffebe"/>
<stop offset="0.5883" stop-color="#fffab7"/>
<stop offset="0.5917" stop-color="#fff7b2"/>
<stop offset="0.5950" stop-color="#fee89d"/>
<stop offset="0.5983" stop-color="#fee496"/>
<stop offset="0.6017" stop-color="#fed081"/>
<stop offset="0.6050" stop-color="#fecc7d"/>
<stop offset="0.6083" stop-color="#feca7c"/>
<stop offset="0.6117" stop-color="#fdbf71"/>
<stop offset="0.6150" stop-color="#fdbd6f"/>
<stop offset="0.6217" stop-color="#fdbd6f"/>
<stop offset="0.6250" stop-color="#fdbb6d"/>
<stop offset="0.6283" stop-color="#fdb063"/>
<stop offset="0.6317" stop-color="#fdae61"/>
<stop offset="0.6650" stop-color="#fdae61"/>
<stop offset="0.6683" stop-color="#fcaa5f"/>
<stop offset="0.6717" stop-color="#f98f52"/>
<stop offset="0.6750" stop-color="#f8884f"/>
<stop offset="0.6783" stop-color="#f57748"/>
<stop offset="0.6817" stop-color="#f57547"/>
<stop offset="0.6883" stop-color="#f57547"/>
<stop offset="0.6917" stop-color="#f57346"/>
<stop offset="0.6950" stop-color="#f26941"/>
<stop offset="0.6983" stop-color="#f46d43"/>
<stop offset="0.7017" stop-color="#f99354"/>
<stop offset="0.7050" stop-color="#fa9957"/>
<stop offset="0.7083" stop-color="#fa9b58"/>
<stop offset="0.7117" stop-color="#fdab60"/>
<stop offset="0.7150" stop-color="#fdae61"/>
<stop offset="0.7183" stop-color="#fdb164"/>
<stop offset="0.7217" stop-color="#fdc476"/>
<stop offset="0.7250" stop-color="#fecd7e"/>
<stop offset="0.7283" stop-color="#fef0a8"/>
<stop offset="0.7317" stop-color="#f3fad5"/>
<stop offset="0.7350" stop-color="#f0f9dc"/>
<stop offset="0.7383" stop-color="#f0f9dc"/>
<stop offset="0.7417" stop-color="#f0f9da"/>
<stop offset="0.7450" stop-color="#f5fbd1"/>
<stop offset="0.7483" stop-color="#f6fbd0"/>
<stop offset="0.7517" stop-color="#f6fbd0"/>
<stop offset="0.7550" stop-color="#f7fcce"/>
<stop offset="0.7583" stop-color="#feffc1"/>
<stop offset="0.7617" stop-color="#fffdbc"/>
<stop offset="0.7650" stop-color="#feefa6"/>
<stop offset="0.7683" stop-color="#feda8b"/>
<stop offset="0.7717" stop-color="#fed687"/>
<stop offset="0.7783" stop-color="#fed687"/>
<stop offset="0.7817" stop-color="#fed889"/>
<stop offset="0.7850" stop-color="#fee597"/>
<stop offset="0.7883" stop-color="#fee89d"/>
<stop offset="0.7917" stop-color="#fff7b2"/>
<stop offset="0.7950" stop-color="#fff9b6"/>
<stop offset="0.8050" stop-color="#fff9b6"/>
<stop offset="0.8083" stop-color="#fff6b1"/>
<stop offset="0.8117" stop-color="#fee091"/>
<stop offset="0.8150" stop-color="#fdc173"/>
<stop offset="0.8183" stop-color="#fdbf71"/>
<stop offset="0.8217" stop-color="#fecf80"/>
<stop offset="0.8250" stop-color="#fed182"/>
<stop offset="0.8283" stop-color="#fed282"/>
<stop offset="0.8317" stop-color="#fed586"/>
<stop offset="0.8350" stop-color="#fed182"/>
<stop offset="0.8383" stop-color="#fdb366"/>
<stop offset="0.8417" stop-color="#fdae61"/>
<stop offset="0.8450" stop-color="#fdab60"/>
<stop offset="0.8483" stop-color="#fa9b58"/>
<stop offset="0.8517" stop-color="#fa9957"/>
<stop offset="0.8550" stop-color="#fa9957"/>
<stop offset="0.8583" stop-color="#fb9f5a"/>
<stop offset="0.8617" stop-color="#fba05a"/>
<stop offset="0.8650" stop-color="#fba15b"/>
<stop offset="0.8683" stop-color="#fdac60"/>
<stop offset="0.8717" stop-color="#fdae61"/>
<stop offset="0.8750" stop-color="#fdb063"/>
<stop offset="0.8783" stop-color="#fdbb6d"/>
<stop offset="0.8817" stop-color="#fdba6c"/>
<stop offset="0.8850" stop-color="#fca45c"/>
<stop offset="0.8883" stop-color="#fba05a"/>
<stop offset="0.8917" stop-color="#fba05a"/>
<stop offset="0.8950" stop-color="#fba15b"/>
<stop offset="0.8983" stop-color="#fdac60"/>
<stop offset="0.9017" stop-color="#fdae61"/>
<stop offset="0.9050" stop-color="#fdaf62"/>
<stop offset="0.9083" stop-color="#fdb769"/>
<stop offset="0.9117" stop-color="#fdb86a"/>
<stop offset="0.9150" stop-color="#fdb96b"/>
<stop offset="0.9183" stop-color="#fdbc6f"/>
<stop offset="0.9217" stop-color="#fdbd6f"/>
<stop offset="0.9250" stop-color="#fdbd6f"/>
<stop offset="0.9283" stop-color="#fdba6c"/>
<stop offset="0.9317" stop-color="#fca45c"/>
<stop offset="0.9350" stop-color="#fba05a"/>
<stop offset="0.9383" stop-color="#fba15b"/>
<stop offset="0.9417" stop-color="#fdac60"/>
<stop offset="0.9450" stop-color="#fdae61"/>
<stop offset="0.9483" stop-color="#fdac60"/>
<stop offset="0.9517" stop-color="#fb9c59"/>
<stop offset="0.9550" stop-color="#f7854e"/>
<stop offset="0.9583" stop-color="#fdbf71"/>
<stop offset="0.9617" stop-color="#feca7b"/>
<stop offset="0.9650" stop-color="#fedd8d"/>
<stop offset="0.9683" stop-color="#fee293"/>
<stop offset="0.9717" stop-color="#feeea5"/>
<stop offset="0.9750" stop-color="#fff1aa"/>
<stop offset="0.9783" stop-color="#ffffbf"/>
<stop offset="0.9817" stop-color="#edf8e1"/>
<stop offset="0.9850" stop-color="#bee2ee"/>
<stop offset="0.9883" stop-color="#b4deec"/>
<stop offset="0.9917" stop-color="#acdae9"/>
<stop offset="0.9950" stop-color="#abd9e9"/>
<stop offset="0.9983" stop-color="#abd9e9"/>
</linearGradient>
<linearGradient id="r5" gradientUnits="userSpaceOnUse" x1="89.20" y1="0" x2="983.50" y2="0">
<stop offset="0.0017" stop-color="#ffffbf"/>
<stop offset="0.0217" stop-color="#ffffbf"/>
<stop offset="0.0250" stop-color="#fbfec6"/>
<stop offset="0.0283" stop-color="#e4f4f1"/>
<stop offset="0.0317" stop-color="#e0f3f8"/>
<stop offset="0.0350" stop-color="#e0f3f8"/>
<stop offset="0.0383" stop-color="#dff2f8"/>
<stop offset="0.0417" stop-color="#d7eef5"/>
<stop offset="0.0450" stop-color="#d3edf4"/>
<stop offset="0.0483" stop-color="#c3e5f0"/>
<stop offset="0.0517" stop-color="#c0e3ef"/>
<stop offset="0.0583" stop-color="#c0e3ef"/>
<stop offset="0.0617" stop-color="#bee2ee"/>
<stop offset="0.0650" stop-color="#aedaea"/>
<stop offset="0.0683" stop-color="#abd9e9"/>
<stop offset="0.0750" stop-color="#abd9e9"/>
<stop offset="0.0783" stop-color="#a9d8e8"/>
<stop offset="0.0817" stop-color="#a0d0e4"/>
<stop offset="0.0850" stop-color="#9ecfe3"/>
<stop offset="0.0883" stop-color="#9ccde2"/>
<stop offset="0.0917" stop-color="#8dc1dc"/>
<stop offset="0.0950" stop-color="#7eb5d5"/>
<stop offset="0.0983" stop-color="#3e60aa"/>
<stop offset="0.1017" stop-color="#3a51a2"/>
<stop offset="0.1083" stop-color="#3a51a2"/>
<stop offset="0.1117" stop-color="#3a53a3"/>
<stop offset="0.1150" stop-color="#3e5ea9"/>
<stop offset="0.1183" stop-color="#3f61aa"/>
<stop offset="0.1217" stop-color="#426db0"/>
<stop offset="0.1250" stop-color="#436eb1"/>
<stop offset="0.1283" stop-color="#426caf"/>
<stop offset="0.1317" stop-color="#3d5ba7"/>
<stop offset="0.1350" stop-color="#3c58a6"/>
<stop offset="0.1383" stop-color="#3a53a3"/>
<stop offset="0.1417" stop-color="#313695"/>
<stop offset="0.1783" stop-color="#313695"/>
<stop offset="0.1817" stop-color="#34409a"/>
<stop offset="0.1850" stop-color="#35429b"/>
<stop offset="0.1883" stop-color="#34409a"/>
<stop offset="0.1917" stop-color="#313695"/>
<stop offset="0.1983" stop-color="#313695"/>
<stop offset="0.2017" stop-color="#313795"/>
<stop offset="0.2050" stop-color="#384da0"/>
<stop offset="0.2083" stop-color="#3a51a2"/>
<stop offset="0.2150" stop-color="#3a51a2"/>
<stop offset="0.2183" stop-color="#3950a2"/>
<stop offset="0.2217" stop-color="#374a9f"/>
<stop offset="0.2250" stop-color="#394ea1"/>
<stop offset="0.2283" stop-color="#416aaf"/>
<stop offset="0.2317" stop-color="#436eb1"/>
<stop offset="0.2350" stop-color="#4471b2"/>
<stop offset="0.2383" stop-color="#5284bc"/>
<stop offset="0.2417" stop-color="#69a0ca"/>
<stop offset="0.2450" stop-color="#6ca3cc"/>
<stop offset="0.2483" stop-color="#6fa7ce"/>
<stop offset="0.2517" stop-color="#87bcd9"/>
<stop offset="0.2550" stop-color="#8dc1dc"/>
<stop offset="0.2583" stop-color="#9ccde2"/>
<stop offset="0.2617" stop-color="#9ecfe3"/>
<stop offset="0.2650" stop-color="#9ecfe3"/>
<stop offset="0.2683" stop-color="#a1d1e5"/>
<stop offset="0.2717" stop-color="#b3ddeb"/>
<stop offset="0.2750" stop-color="#b6deec"/>
<stop offset="0.2783" stop-color="#b9e0ed"/>
<stop offset="0.2817" stop-color="#cdeaf3"/>
<stop offset="0.2850" stop-color="#d0ebf4"/>
<stop offset="0.2883" stop-color="#d0ebf4"/>
<stop offset="0.2917" stop-color="#d2ecf4"/>
<stop offset="0.2950" stop-color="#def2f7"/>
<stop offset="0.2983" stop-color="#e1f4f5"/>
<stop offset="0.3017" stop-color="#ebf7e4"/>
<stop offset="0.3050" stop-color="#ecf8e1"/>
<stop offset="0.3083" stop-color="#edf8e1"/>
<stop offset="0.3117" stop-color="#eff9dc"/>
<stop offset="0.3150" stop-color="#f0f9dc"/>
<stop offset="0.3183" stop-color="#f1f9d9"/>
<stop offset="0.3217" stop-color="#f8fccc"/>
<stop offset="0.3250" stop-color="#fafdc9"/>
<stop offset="0.3283" stop-color="#feffc0"/>
<stop offset="0.3317" stop-color="#ffffbf"/>
<stop offset="0.3683" stop-color="#ffffbf"/>
<stop offset="0.3717" stop-color="#feffc0"/>
<stop offset="0.3750" stop-color="#f7fccf"/>
<stop offset="0.3783" stop-color="#d8eff6"/>
<stop offset="0.3817" stop-color="#71a9cf"/>
<stop offset="0.3850" stop-color="#3b55a4"/>
<stop offset="0.3883" stop-color="#36459c"/>
<stop offset="0.3917" stop-color="#313695"/>
<stop offset="0.4750" stop-color="#313695"/>
<stop offset="0.4783" stop-color="#323996"/>
<stop offset="0.4817" stop-color="#35449c"/>
<stop offset="0.4850" stop-color="#5487bd"/>
<stop offset="0.4883" stop-color="#98cae1"/>
<stop offset="0.4917" stop-color="#6ca3cc"/>
<stop offset="0.4950" stop-color="#4168ae"/>
<stop offset="0.4983" stop-color="#3e60a9"/>
<stop offset="0.5017" stop-color="#3c59a6"/>
<stop offset="0.5050" stop-color="#313695"/>
<stop offset="0.5850" stop-color="#313695"/>
<stop offset="0.5883" stop-color="#323996"/>
<stop offset="0.5917" stop-color="#3e60aa"/>
<stop offset="0.5950" stop-color="#578abf"/>
<stop offset="0.5983" stop-color="#5d92c3"/>
<stop offset="0.6017" stop-color="#6aa1cb"/>
<stop offset="0.6050" stop-color="#6ca3cc"/>
<stop offset="0.6117" stop-color="#6ca3cc"/>
<stop offset="0.6150" stop-color="#6da5cd"/>
<stop offset="0.6183" stop-color="#76afd2"/>
<stop offset="0.6217" stop-color="#78b0d3"/>
<stop offset="0.6283" stop-color="#78b0d3"/>
<stop offset="0.6317" stop-color="#7ab2d4"/>
<stop offset="0.6350" stop-color="#89bdda"/>
<stop offset="0.6383" stop-color="#8bbfdb"/>
<stop offset="0.6450" stop-color="#8bbfdb"/>
<stop offset="0.6483" stop-color="#8dc1dc"/>
<stop offset="0.6517" stop-color="#9ccde2"/>
<stop offset="0.6550" stop-color="#9ecfe3"/>
<stop offset="0.6583" stop-color="#a0d1e4"/>
<stop offset="0.6617" stop-color="#aedbea"/>
<stop offset="0.6650" stop-color="#b0dcea"/>
<stop offset="0.6683" stop-color="#b2ddeb"/>
<stop offset="0.6717" stop-color="#bee2ee"/>
<stop offset="0.6750" stop-color="#c0e3ef"/>
<stop offset="0.6783" stop-color="#c0e3ef"/>
<stop offset="0.6817" stop-color="#c3e5f0"/>
<stop offset="0.6850" stop-color="#d8eff6"/>
<stop offset="0.6883" stop-color="#dbf0f6"/>
<stop offset="0.6950" stop-color="#dbf0f6"/>
<stop offset="0.6983" stop-color="#ddf2f7"/>
<stop offset="0.7017" stop-color="#e8f6ea"/>
<stop offset="0.7050" stop-color="#e9f7e7"/>
<stop offset="0.7117" stop-color="#e9f7e7"/>
<stop offset="0.7150" stop-color="#eaf7e6"/>
<stop offset="0.7183" stop-color="#eff9dd"/>
<stop offset="0.7217" stop-color="#f0f9dc"/>
<stop offset="0.7450" stop-color="#f0f9dc"/>
<stop offset="0.7483" stop-color="#f0f9da"/>
<stop offset="0.7517" stop-color="#f5fbd1"/>
<stop offset="0.7550" stop-color="#f6fbd0"/>
<stop offset="0.7783" stop-color="#f6fbd0"/>
<stop offset="0.7817" stop-color="#f7fcce"/>
<stop offset="0.7850" stop-color="#feffc1"/>
<stop offset="0.7883" stop-color="#ffffbf"/>
<stop offset="0.8017" stop-color="#ffffbf"/>
<stop offset="0.8050" stop-color="#feffc0"/>
<stop offset="0.8083" stop-color="#fafdc9"/>
<stop offset="0.8117" stop-color="#f9fdca"/>
<stop offset="0.8317" stop-color="#f9fdca"/>
<stop offset="0.8350" stop-color="#fafdc9"/>
<stop offset="0.8383" stop-color="#feffc0"/>
<stop offset="0.8417" stop-color="#ffffbf"/>
<stop offset="0.8783" stop-color="#ffffbf"/>
<stop offset="0.8817" stop-color="#feffc0"/>
<stop offset="0.8850" stop-color="#fafdc9"/>
<stop offset="0.8883" stop-color="#f9fdca"/>
<stop offset="0.9017" stop-color="#f9fdca"/>
<stop offset="0.9050" stop-color="#f8fccc"/>
<stop offset="0.9083" stop-color="#f3fad4"/>
<stop offset="0.9117" stop-color="#f3fad6"/>
<stop offset="0.9183" stop-color="#f3fad6"/>
<stop offset="0.9217" stop-color="#f2fad7"/>
<stop offset="0.9250" stop-color="#edf8e0"/>
<stop offset="0.9283" stop-color="#ecf8e1"/>
<stop offset="0.9317" stop-color="#ebf7e4"/>
<stop offset="0.9350" stop-color="#e1f4f5"/>
<stop offset="0.9383" stop-color="#e0f3f8"/>
<stop offset="0.9417" stop-color="#ddf1f7"/>
<stop offset="0.9450" stop-color="#c9e8f1"/>
<stop offset="0.9483" stop-color="#c2e4f0"/>
<stop offset="0.9517" stop-color="#aedbea"/>
<stop offset="0.9550" stop-color="#a5d4e6"/>
<stop offset="0.9583" stop-color="#7eb5d5"/>
<stop offset="0.9617" stop-color="#72abd0"/>
<stop offset="0.9650" stop-color="#4f80ba"/>
<stop offset="0.9683" stop-color="#35429b"/>
<stop offset="0.9717" stop-color="#313695"/>
<stop offset="0.9750" stop-color="#3a52a3"/>
<stop offset="0.9783" stop-color="#313695"/>
<stop offset="0.9983" stop-color="#313695"/>
</linearGradient>
</defs>
<rect x="89.20" y="65.80" width="894.30" height="21.75" fill="url(#r0)"/>
<rect x="89.20" y="86.95" width="894.30" height="21.75" fill="url(#r1)"/>
<rect x="89.20" y="108.10" width="894.30" height="21.75" fill="url(#r2)"/>
<rect x="89.20" y="129.25" width="894.30" height="21.75" fill="url(#r3)"/>
<rect x="89.20" y="150.40" width="894.30" height="21.75" fill="url(#r4)"/>
<rect x="89.20" y="171.55" width="894.30" height="21.15" fill="url(#r5)"/>
<rect x="89.2" y="237.8" width="894.3" height="127.1" fill="#e5ecf6"/>
<line x1="135.2" y1="237.8" x2="135.2" y2="364.9" stroke="#fff" stroke-width="0.9" stroke-opacity="0.8"/>
<line x1="218.8" y1="237.8" x2="218.8" y2="364.9" stroke="#fff" stroke-width="0.9" stroke-opacity="0.8"/>
<line x1="311.4" y1="237.8" x2="311.4" y2="364.9" stroke="#fff" stroke-width="0.9" stroke-opacity="0.8"/>
<line x1="401.0" y1="237.8" x2="401.0" y2="364.9" stroke="#fff" stroke-width="0.9" stroke-opacity="0.8"/>
<line x1="493.6" y1="237.8" x2="493.6" y2="364.9" stroke="#fff" stroke-width="0.9" stroke-opacity="0.8"/>
<line x1="583.2" y1="237.8" x2="583.2" y2="364.9" stroke="#fff" stroke-width="0.9" stroke-opacity="0.8"/>
<line x1="675.7" y1="237.8" x2="675.7" y2="364.9" stroke="#fff" stroke-width="0.9" stroke-opacity="0.8"/>
<line x1="768.0" y1="237.8" x2="768.0" y2="364.9" stroke="#fff" stroke-width="0.9" stroke-opacity="0.8"/>
<line x1="857.6" y1="237.8" x2="857.6" y2="364.9" stroke="#fff" stroke-width="0.9" stroke-opacity="0.8"/>
<line x1="950.5" y1="237.8" x2="950.5" y2="364.9" stroke="#fff" stroke-width="0.9" stroke-opacity="0.8"/>
<line x1="89.2" y1="271.8" x2="983.5" y2="271.8" stroke="#fff" stroke-width="0.9" stroke-opacity="0.8"/>
<line x1="89.2" y1="308.0" x2="983.5" y2="308.0" stroke="#fff" stroke-width="0.9" stroke-opacity="0.8"/>
<line x1="89.2" y1="344.6" x2="983.5" y2="344.6" stroke="#fff" stroke-width="0.9" stroke-opacity="0.8"/>
<text x="401.5" y="140.6" style="font-family:'Liberation Sans',sans-serif;font-weight:400;font-size:56px;letter-spacing:1.65px" fill="#80808c" stroke="#80808c" stroke-width="1.1" opacity="0.2">glassnode</text>
<text x="401.5" y="321.3" style="font-family:'Liberation Sans',sans-serif;font-weight:400;font-size:56px;letter-spacing:1.65px" fill="#80808c" stroke="#80808c" stroke-width="1.1" opacity="0.21">glassnode</text>
<polyline points="91.2,263.2 93.6,262.7 96.5,264.7 99.5,269.2 101.0,276.6 103.1,284.1 106.1,289.1 109.0,285.6 112.9,283.5 117.4,282.6 121.8,281.1 126.3,278.4 129.3,278.7 132.9,276.6 135.2,276.0 138.2,282.6 141.8,282.6 144.2,267.7 147.7,265.3 150.7,261.8 153.1,257.3 156.7,255.8 159.6,255.8 162.6,258.8 165.6,262.4 168.6,263.5 172.4,262.7 175.4,258.8 176.9,255.8 179.9,255.8 182.9,268.3 185.2,270.1 188.2,270.7 191.8,276.0 194.8,280.2 197.7,277.2 200.7,280.5 203.7,278.1 206.7,274.6 209.6,274.3 212.6,279.0 215.0,263.2 217.1,257.3 219.2,255.8 222.1,257.3 225.1,263.2 228.1,273.7 231.1,274.3 234.0,277.2 236.4,278.1 240.0,276.0 243.0,264.7 246.0,273.7 248.9,275.8 251.9,275.8 254.3,279.0 257.3,273.7 260.2,273.7 263.2,267.7 266.2,267.7 269.2,264.7 272.1,263.2 275.1,266.2 278.1,267.1 281.1,263.2 284.0,261.2 287.0,257.3 290.0,255.8 293.0,254.3 296.0,246.9 298.9,244.8 301.9,244.2 304.9,245.4 308.5,252.2 310.8,249.3 313.8,249.3 316.8,247.8 319.8,246.9 322.7,251.3 325.7,258.8 328.7,258.8 331.7,262.4 334.6,261.2 337.6,263.2 340.0,270.7 343.0,270.1 346.0,267.1 348.9,270.7 351.9,269.2 356.4,270.1 359.3,272.2 362.3,267.7 365.3,265.6 368.3,266.2 371.2,269.2 374.2,271.3 378.7,272.2 382.3,269.8 385.2,278.1 387.6,275.2 390.6,272.2 394.2,275.2 398.0,279.0 401.0,277.2 404.0,278.1 407.0,276.6 409.0,273.1 412.0,281.1 415.9,285.0 418.9,288.5 421.8,296.0 424.8,304.9 426.9,304.0 429.3,310.0 432.3,311.8 436.7,310.9 439.7,308.8 442.7,303.4 445.7,307.9 448.6,306.4 451.6,310.9 454.6,306.4 457.6,310.0 462.0,306.4 465.0,310.9 468.6,309.4 472.4,310.0 476.3,310.9 479.9,312.4 484.3,310.0 487.3,303.4 490.3,301.0 493.3,306.4 496.2,305.8 499.2,307.9 502.2,308.8 505.2,307.9 508.2,303.4 511.1,302.8 514.1,305.8 517.1,307.0 520.1,310.0 523.0,313.0 526.0,318.3 529.0,334.7 533.5,335.6 536.4,341.5 539.4,342.1 542.4,346.6 546.8,342.1 549.8,342.7 552.8,342.1 555.8,344.5 560.2,339.7 563.2,338.5 567.7,339.1 572.1,340.6 576.6,343.6 579.6,346.6 584.0,346.0 588.5,346.6 591.5,344.5 596.0,342.7 600.4,338.5 603.4,337.4 606.4,338.5 610.8,342.7 615.3,346.0 618.3,344.5 622.7,342.1 627.2,340.0 630.2,341.5 633.2,336.2 636.1,331.7 640.0,331.7 644.5,333.2 648.9,334.7 651.9,334.7 656.4,339.7 659.3,333.2 663.2,329.3 666.8,329.6 671.2,331.1 675.7,332.3 680.2,333.2 684.6,334.1 688.2,331.7 691.2,332.6 695.1,330.2 698.0,332.3 701.0,329.6 705.5,328.7 709.9,327.5 714.4,327.8 718.9,329.0 722.7,329.6 726.3,331.7 728.7,340.6 732.3,339.1 736.7,338.2 741.2,338.5 745.7,337.7 748.6,342.7 751.6,343.6 756.1,345.1 759.0,343.0 762.0,344.2 766.5,343.6 771.0,343.9 775.4,344.2 778.4,343.9 782.3,348.1 786.4,346.6 790.3,338.5 794.8,337.1 799.2,335.6 802.2,342.1 805.2,342.7 808.2,344.2 811.1,345.1 815.6,343.9 818.6,346.0 822.1,346.6 826.0,349.0 830.5,346.0 834.9,347.2 839.4,348.1 843.9,346.6 848.3,345.7 852.8,345.7 857.3,346.6 860.0,346.5 865.6,342.4 869.3,343.7 874.9,345.5 880.4,346.5 887.9,347.0 892.5,346.1 898.1,347.0 904.6,345.2 912.0,347.0 919.5,346.5 922.3,345.2 925.1,346.1 930.6,341.3 934.3,342.8 939.9,340.9 945.5,341.3 950.1,342.4 954.8,343.1 958.5,339.4 961.3,339.0 964.1,340.0 966.9,340.9 969.7,347.4 972.8,358.6 975.6,353.0 978.0,354.5 981.7,355.8" fill="none" stroke="#7f7f7f" stroke-width="1.4" stroke-linejoin="round"/>
<text x="135.2" y="375" text-anchor="middle" style="font-family:'Liberation Sans',sans-serif;font-size:8.7px;" fill="#424f69">Feb 2022</text>
<text x="218.8" y="375" text-anchor="middle" style="font-family:'Liberation Sans',sans-serif;font-size:8.7px;" fill="#424f69">Mar 2022</text>
<text x="311.4" y="375" text-anchor="middle" style="font-family:'Liberation Sans',sans-serif;font-size:8.7px;" fill="#424f69">Apr 2022</text>
<text x="401.0" y="375" text-anchor="middle" style="font-family:'Liberation Sans',sans-serif;font-size:8.7px;" fill="#424f69">May 2022</text>
<text x="493.6" y="375" text-anchor="middle" style="font-family:'Liberation Sans',sans-serif;font-size:8.7px;" fill="#424f69">Jun 2022</text>
<text x="583.2" y="375" text-anchor="middle" style="font-family:'Liberation Sans',sans-serif;font-size:8.7px;" fill="#424f69">Jul 2022</text>
<text x="675.7" y="375" text-anchor="middle" style="font-family:'Liberation Sans',sans-serif;font-size:8.7px;" fill="#424f69">Aug 2022</text>
<text x="768.0" y="375" text-anchor="middle" style="font-family:'Liberation Sans',sans-serif;font-size:8.7px;" fill="#424f69">Sep 2022</text>
<text x="857.6" y="375" text-anchor="middle" style="font-family:'Liberation Sans',sans-serif;font-size:8.7px;" fill="#424f69">Oct 2022</text>
<text x="950.5" y="375" text-anchor="middle" style="font-family:'Liberation Sans',sans-serif;font-size:8.7px;" fill="#424f69">Nov 2022</text>
<text x="88" y="275.3" text-anchor="end" style="font-family:'Liberation Sans',sans-serif;font-size:8.7px;" fill="#424f69">40k</text>
<text x="88" y="311.5" text-anchor="end" style="font-family:'Liberation Sans',sans-serif;font-size:8.7px;" fill="#424f69">30k</text>
<text x="88" y="348.1" text-anchor="end" style="font-family:'Liberation Sans',sans-serif;font-size:8.7px;" fill="#424f69">20k</text>
<text x="88" y="79.8" text-anchor="end" style="font-family:'Liberation Sans',sans-serif;font-size:8.7px;" fill="#424f69">&gt;10k</text>
<text x="88" y="100.9" text-anchor="end" style="font-family:'Liberation Sans',sans-serif;font-size:8.7px;" fill="#424f69">1k-10k</text>
<text x="88" y="122.1" text-anchor="end" style="font-family:'Liberation Sans',sans-serif;font-size:8.7px;" fill="#424f69">100-1k</text>
<text x="88" y="143.2" text-anchor="end" style="font-family:'Liberation Sans',sans-serif;font-size:8.7px;" fill="#424f69">10-100</text>
<text x="88" y="164.4" text-anchor="end" style="font-family:'Liberation Sans',sans-serif;font-size:8.7px;" fill="#424f69">1-10</text>
<text x="88" y="185.5" text-anchor="end" style="font-family:'Liberation Sans',sans-serif;font-size:8.7px;" fill="#424f69">&lt;1</text>
<text transform="translate(44.5,129.5) rotate(-90)" text-anchor="middle" style="font-family:'Liberation Sans',sans-serif;font-size:9.9px;" fill="#424f69">Cohorts by BTC</text>
<text transform="translate(56.2,301.8) rotate(-90)" text-anchor="middle" style="font-family:'Liberation Sans',sans-serif;font-size:9.9px;" fill="#424f69">Price</text>
<defs><linearGradient id="cb" x1="0" y1="1" x2="0" y2="0">
<stop offset="0.0" stop-color="rgb(165,0,38)"/>
<stop offset="0.1" stop-color="rgb(215,48,39)"/>
<stop offset="0.2" stop-color="rgb(244,109,67)"/>
<stop offset="0.3" stop-color="rgb(253,174,97)"/>
<stop offset="0.4" stop-color="rgb(254,224,144)"/>
<stop offset="0.5" stop-color="rgb(255,255,191)"/>
<stop offset="0.6" stop-color="rgb(224,243,248)"/>
<stop offset="0.7" stop-color="rgb(171,217,233)"/>
<stop offset="0.8" stop-color="rgb(116,173,209)"/>
<stop offset="0.9" stop-color="rgb(69,117,180)"/>
<stop offset="1.0" stop-color="rgb(49,54,149)"/>
</linearGradient></defs>
<rect x="1009.2" y="73.0" width="21" height="285.0" fill="url(#cb)"/>
<text x="1033.3" y="361.0" style="font-family:'Liberation Sans',sans-serif;font-size:8.7px;" fill="#424f69">0</text>
<text x="1033.3" y="304.0" style="font-family:'Liberation Sans',sans-serif;font-size:8.7px;" fill="#424f69">0.2</text>
<text x="1033.3" y="247.0" style="font-family:'Liberation Sans',sans-serif;font-size:8.7px;" fill="#424f69">0.4</text>
<text x="1033.3" y="190.0" style="font-family:'Liberation Sans',sans-serif;font-size:8.7px;" fill="#424f69">0.6</text>
<text x="1033.3" y="133.0" style="font-family:'Liberation Sans',sans-serif;font-size:8.7px;" fill="#424f69">0.8</text>
<text x="1033.3" y="76.0" style="font-family:'Liberation Sans',sans-serif;font-size:8.7px;" fill="#424f69">1</text>
<text x="91" y="399.2" style="font-family:'Liberation Sans',sans-serif;font-size:10.9px;" fill="#b0b2ba">Based on data from 2022-11-13T00:30:02Z</text>
<text x="982" y="399.2" text-anchor="end" style="font-family:'Liberation Sans',sans-serif;font-size:10.9px;" fill="#b0b2ba">© 2022 Glassnode. All Rights Reserved</text>
<line x1="967.2" y1="44.3" x2="967.2" y2="374.5" stroke="#d8286c" stroke-width="1.1" stroke-dasharray="2.6,2"/>
<text x="965.2" y="39.6" text-anchor="middle" style="font-family:'Liberation Sans',sans-serif;font-weight:700;font-size:13.9px;" fill="#e0246e">FTX Failure</text>
<text x="858.5" y="209.8" text-anchor="middle" style="font-family:'Liberation Sans',sans-serif;font-weight:700;font-size:14px;" fill="#1a56c8">All Cohorts Transition to</text>
<text x="857.7" y="226.2" text-anchor="middle" style="font-family:'Liberation Sans',sans-serif;font-weight:700;font-size:14px;" fill="#1a56c8">Balance Increase</text>
<line x1="770" y1="232.3" x2="974.4" y2="232.3" stroke="#3a4a9f" stroke-width="1" stroke-dasharray="2.5,2"/>
<line x1="974.4" y1="232.8" x2="974.4" y2="194.5" stroke="#4a6fd0" stroke-width="1.1"/>
<path d="M971.6 197.6 L974.4 193.4 L977.2 197.6" fill="none" stroke="#4a6fd0" stroke-width="1.1"/>
</svg>
<h1 style="margin:0;font-size:0;font-weight:400"><span class="title" style="left:23.6px;transform:scaleX(1.147)">Bitcoin:</span> <span class="title" style="left:136.2px;transform:scaleX(1.084)">Trend</span> <span class="title" style="left:223.4px;transform:scaleX(1.145)">Accumulation</span> <span class="title" style="left:418px;transform:scaleX(1.127)">Score</span> <span class="title" style="left:505.6px;transform:scaleX(1.147)">by</span> <span class="title" style="left:548px;transform:scaleX(1.142)">Cohort</span></h1>
<div class="foot">© 2022 Glassnode. All Rights Reserved.</div>
<div class="logo">glassnode</div>
</body></html>
